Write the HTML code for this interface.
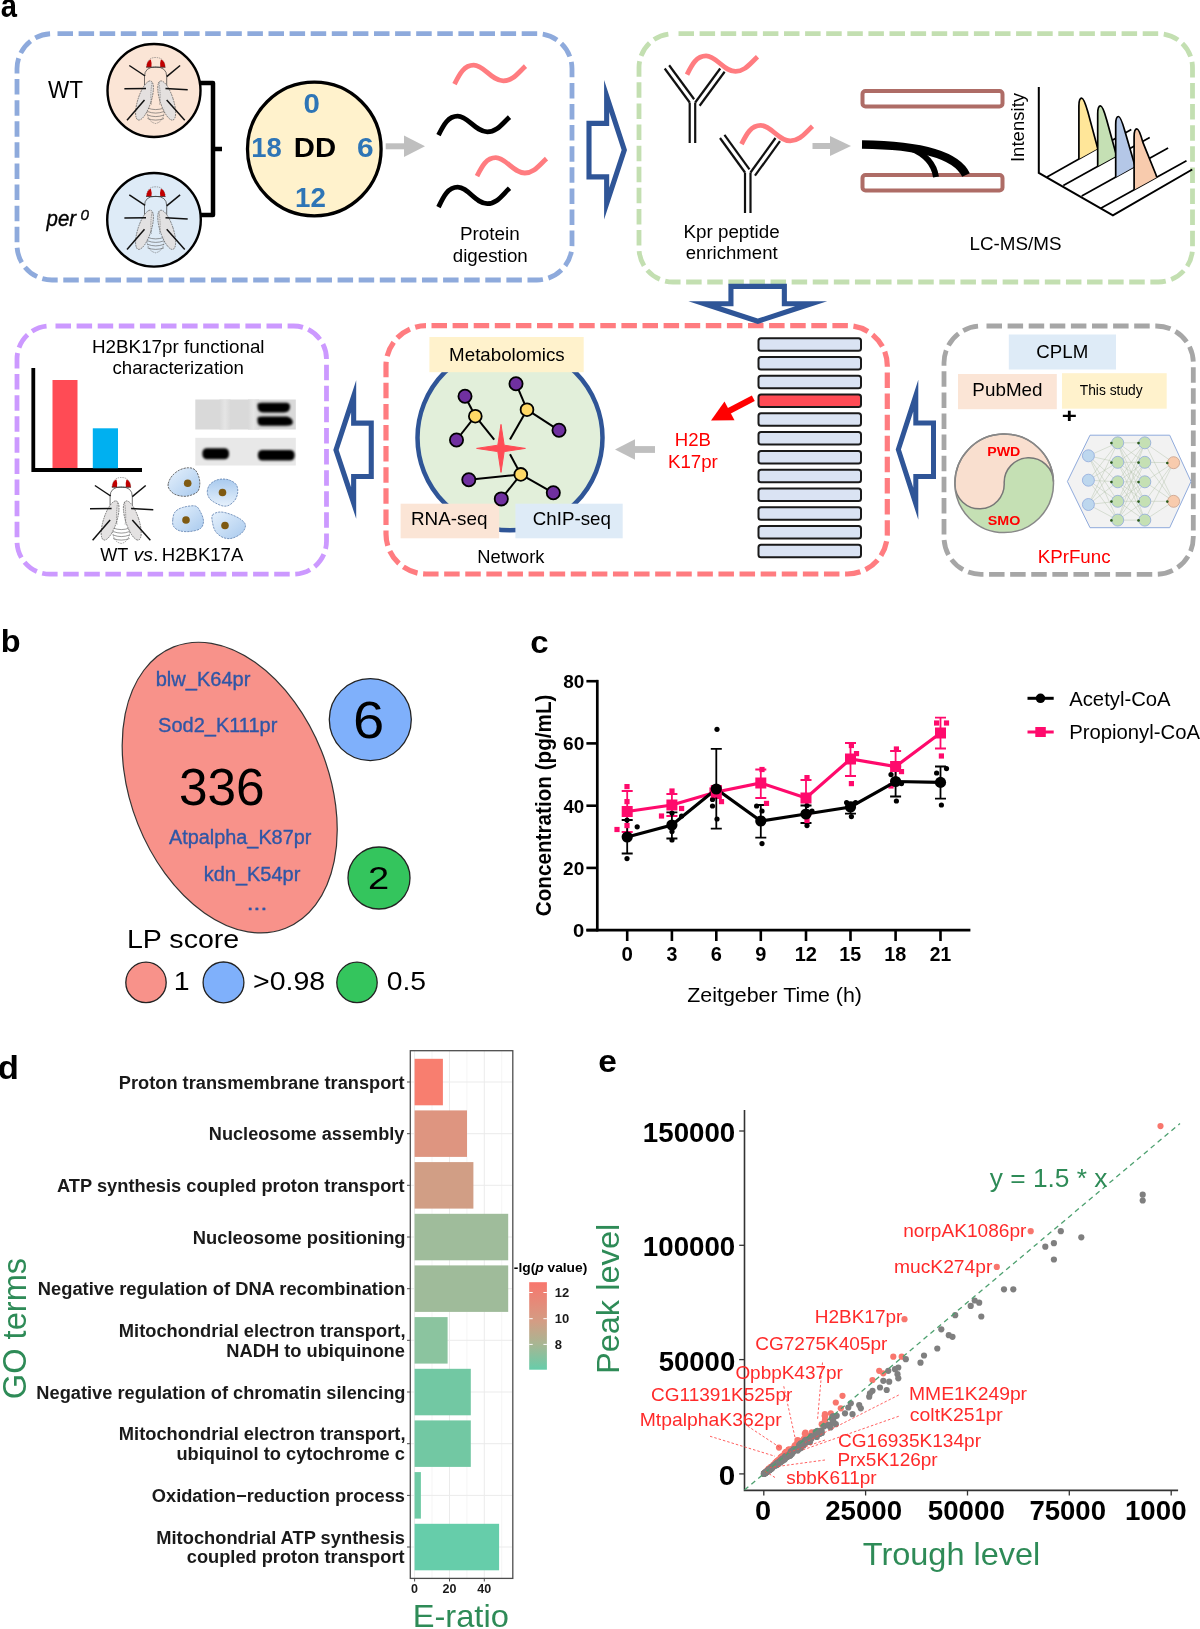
<!DOCTYPE html>
<html><head><meta charset="utf-8"><style>
html,body{margin:0;padding:0;background:#fff;}
svg{display:block;font-family:"Liberation Sans", sans-serif;will-change:transform;}
</style></head><body>
<svg width="1200" height="1629" viewBox="0 0 1200 1629" font-family='"Liberation Sans", sans-serif'>
<rect width="1200" height="1629" fill="#fff"/>
<text x="0.83" y="17.3" font-size="32.5" fill="#000" font-weight="bold" textLength="16.22" lengthAdjust="spacingAndGlyphs">a</text>
<rect x="17" y="33.7" width="555" height="246.3" rx="35" ry="35" fill="none" stroke="#8eaadc" stroke-width="4.8" stroke-dasharray="15.5 5.6" stroke-dashoffset="15.6"/>
<rect x="639" y="33.7" width="553.5" height="248.3" rx="34" ry="34" fill="none" stroke="#c3dfb1" stroke-width="4.8" stroke-dasharray="15.5 5.6" stroke-dashoffset="15.6"/>
<rect x="17" y="326" width="309.5" height="248.20000000000005" rx="33" ry="33" fill="none" stroke="#cc99ff" stroke-width="4.8" stroke-dasharray="15.5 5.6" stroke-dashoffset="15.6"/>
<rect x="386" y="325.7" width="501.29999999999995" height="248.3" rx="40" ry="40" fill="none" stroke="#ff7c80" stroke-width="5.2" stroke-dasharray="15.5 5.6" stroke-dashoffset="15.6"/>
<rect x="944" y="326" width="249.29999999999995" height="248.29999999999995" rx="37" ry="37" fill="none" stroke="#a6a6a6" stroke-width="4.8" stroke-dasharray="15.5 5.6" stroke-dashoffset="15.6"/>
<circle cx="154" cy="90.5" r="46.5" fill="#fbe5d6" stroke="#000" stroke-width="2.4"/>
<g transform="translate(154,90.5)"><path d="M-7 16 Q-8 31 1.6 33 Q11 31 10.5 16" fill="none" stroke="#666" stroke-width="0.6" stroke-dasharray="1.6 0.9"/><path d="M-6.5 17.5 Q1.6 20.7 10 17.5" fill="none" stroke="#555" stroke-width="0.6"/><path d="M-6.5 21 Q1.6 24.2 10 21" fill="none" stroke="#555" stroke-width="0.6"/><path d="M-6.5 24.5 Q1.6 27.7 10 24.5" fill="none" stroke="#555" stroke-width="0.6"/><path d="M-6.5 28 Q1.6 31.2 10 28" fill="none" stroke="#555" stroke-width="0.6"/><path d="M-9.5 -5 L-9.5 -14 Q-9.5 -23.5 1.6 -23.5 Q12.7 -23.5 12.7 -14 L12.7 -5" fill="none" stroke="#333" stroke-width="0.7"/><ellipse cx="-9.5" cy="10" rx="6.6" ry="20.5" transform="rotate(18 -9.5 10)" fill="#e2dfdf" fill-opacity="0.92" stroke="#444" stroke-width="0.6" stroke-dasharray="1.8 0.8"/><ellipse cx="12.7" cy="10" rx="6.6" ry="20.5" transform="rotate(-18 12.7 10)" fill="#e2dfdf" fill-opacity="0.92" stroke="#444" stroke-width="0.6" stroke-dasharray="1.8 0.8"/><path d="M-2 -8 Q-4 5 -2.5 14 M5 -8 Q7 5 5.5 14" fill="none" stroke="#555" stroke-width="0.5" stroke-dasharray="1.5 0.8"/><path d="M-7.5 -23.3 Q-7 -33 1.6 -33 Q10.5 -33 11.2 -23.3 Z" fill="none" stroke="#666" stroke-width="0.6" stroke-dasharray="1.4 0.9"/><path d="M-7.6 -23.3 Q-7.3 -29.5 -3.2 -31 Q-1.8 -27 -2.6 -23.3 Z" fill="#c00000"/><path d="M11.3 -23.3 Q11 -29.5 6.9 -31 Q5.5 -27 6.3 -23.3 Z" fill="#c00000"/><line x1="-7.8" y1="-23.3" x2="11.4" y2="-23.3" stroke="#333" stroke-width="0.7"/><line x1="-24.7" y1="-25" x2="-8.9" y2="-14.5" stroke="#111" stroke-width="1.5"/><line x1="26.1" y1="-25" x2="12.7" y2="-13.9" stroke="#111" stroke-width="1.5"/><line x1="-29.6" y1="-1.7" x2="-8" y2="-2" stroke="#111" stroke-width="1.5"/><line x1="33.7" y1="-0.8" x2="11.5" y2="-2" stroke="#111" stroke-width="1.5"/><line x1="-27" y1="29.8" x2="-9.5" y2="9.5" stroke="#111" stroke-width="1.5"/><line x1="30.75" y1="29.8" x2="12.7" y2="9.5" stroke="#111" stroke-width="1.5"/></g>
<circle cx="154" cy="219.8" r="46.8" fill="#deebf7" stroke="#000" stroke-width="2.4"/>
<g transform="translate(154,219.8)"><path d="M-7 16 Q-8 31 1.6 33 Q11 31 10.5 16" fill="none" stroke="#666" stroke-width="0.6" stroke-dasharray="1.6 0.9"/><path d="M-6.5 17.5 Q1.6 20.7 10 17.5" fill="none" stroke="#555" stroke-width="0.6"/><path d="M-6.5 21 Q1.6 24.2 10 21" fill="none" stroke="#555" stroke-width="0.6"/><path d="M-6.5 24.5 Q1.6 27.7 10 24.5" fill="none" stroke="#555" stroke-width="0.6"/><path d="M-6.5 28 Q1.6 31.2 10 28" fill="none" stroke="#555" stroke-width="0.6"/><path d="M-9.5 -5 L-9.5 -14 Q-9.5 -23.5 1.6 -23.5 Q12.7 -23.5 12.7 -14 L12.7 -5" fill="none" stroke="#333" stroke-width="0.7"/><ellipse cx="-9.5" cy="10" rx="6.6" ry="20.5" transform="rotate(18 -9.5 10)" fill="#e2dfdf" fill-opacity="0.92" stroke="#444" stroke-width="0.6" stroke-dasharray="1.8 0.8"/><ellipse cx="12.7" cy="10" rx="6.6" ry="20.5" transform="rotate(-18 12.7 10)" fill="#e2dfdf" fill-opacity="0.92" stroke="#444" stroke-width="0.6" stroke-dasharray="1.8 0.8"/><path d="M-2 -8 Q-4 5 -2.5 14 M5 -8 Q7 5 5.5 14" fill="none" stroke="#555" stroke-width="0.5" stroke-dasharray="1.5 0.8"/><path d="M-7.5 -23.3 Q-7 -33 1.6 -33 Q10.5 -33 11.2 -23.3 Z" fill="none" stroke="#666" stroke-width="0.6" stroke-dasharray="1.4 0.9"/><path d="M-7.6 -23.3 Q-7.3 -29.5 -3.2 -31 Q-1.8 -27 -2.6 -23.3 Z" fill="#c00000"/><path d="M11.3 -23.3 Q11 -29.5 6.9 -31 Q5.5 -27 6.3 -23.3 Z" fill="#c00000"/><line x1="-7.8" y1="-23.3" x2="11.4" y2="-23.3" stroke="#333" stroke-width="0.7"/><line x1="-24.7" y1="-25" x2="-8.9" y2="-14.5" stroke="#111" stroke-width="1.5"/><line x1="26.1" y1="-25" x2="12.7" y2="-13.9" stroke="#111" stroke-width="1.5"/><line x1="-29.6" y1="-1.7" x2="-8" y2="-2" stroke="#111" stroke-width="1.5"/><line x1="33.7" y1="-0.8" x2="11.5" y2="-2" stroke="#111" stroke-width="1.5"/><line x1="-27" y1="29.8" x2="-9.5" y2="9.5" stroke="#111" stroke-width="1.5"/><line x1="30.75" y1="29.8" x2="12.7" y2="9.5" stroke="#111" stroke-width="1.5"/></g>
<text x="47.89" y="97.7" font-size="23.4" fill="#000" textLength="35.06" lengthAdjust="spacingAndGlyphs">WT</text>
<text x="46.51" y="226.3" font-size="21.5" fill="#000" font-style="italic" textLength="29.58" lengthAdjust="spacingAndGlyphs" stroke="#000" stroke-width="0.35">per</text>
<text x="80.61" y="220" font-size="15.5" fill="#000" font-style="italic" textLength="8.48" lengthAdjust="spacingAndGlyphs" stroke="#000" stroke-width="0.3">0</text>
<path d="M200 83 H213 V215 H200" fill="none" stroke="#000" stroke-width="4.5" stroke-linejoin="round"/>
<line x1="213" y1="149" x2="222" y2="149" stroke="#000" stroke-width="4.5"/>
<circle cx="314.3" cy="149" r="66.8" fill="#fff2cc" stroke="#000" stroke-width="3.3"/>
<text x="303.62" y="112.5" font-size="27" fill="#2e75b6" font-weight="bold" textLength="16.39" lengthAdjust="spacingAndGlyphs">0</text>
<text x="295.14" y="206.5" font-size="27" fill="#2e75b6" font-weight="bold" textLength="30.84" lengthAdjust="spacingAndGlyphs">12</text>
<text x="251.35" y="157.2" font-size="27" fill="#2e75b6" font-weight="bold" textLength="30.53" lengthAdjust="spacingAndGlyphs">18</text>
<text x="356.95" y="157.2" font-size="27" fill="#2e75b6" font-weight="bold" textLength="16.63" lengthAdjust="spacingAndGlyphs">6</text>
<text x="293.80" y="157.2" font-size="27" fill="#000" font-weight="bold" textLength="42.30" lengthAdjust="spacingAndGlyphs">DD</text>
<line x1="385.7" y1="146.3" x2="404" y2="146.3" stroke="#bfbfbf" stroke-width="6"/>
<polygon points="404,135.5 425,146.3 404,157.10000000000002" fill="#bfbfbf"/>
<path d="M454.5 84.1 C459.7 73.7 464.1 65.2 473.7 65.2 C484.1 65.2 491.5 80.9 503.3 80.9 C512.9 80.9 518.1 72.8 525.5 66.1" fill="none" stroke="#ff7c80" stroke-width="4.8"/>
<path d="M438.5 135.1 C443.7 124.7 448.1 116.2 457.7 116.2 C468.1 116.2 475.5 131.9 487.3 131.9 C496.9 131.9 502.1 123.8 509.5 117.1" fill="none" stroke="#000" stroke-width="4.8"/>
<path d="M477.0 176.1 C482.1 166.0 486.4 157.7 495.8 157.7 C505.9 157.7 513.2 173.0 524.8 173.0 C534.2 173.0 539.2 165.1 546.5 158.6" fill="none" stroke="#ff7c80" stroke-width="4.8"/>
<path d="M438.5 207.1 C443.7 196.2 448.1 187.2 457.7 187.2 C468.1 187.2 475.5 203.7 487.3 203.7 C496.9 203.7 502.1 195.2 509.5 188.2" fill="none" stroke="#000" stroke-width="4.8"/>
<text x="459.99" y="240.4" font-size="18" fill="#000" textLength="59.80" lengthAdjust="spacingAndGlyphs">Protein</text>
<text x="452.75" y="262" font-size="18" fill="#000" textLength="75.03" lengthAdjust="spacingAndGlyphs">digestion</text>
<polygon points="586.45,120.80 604.10,120.80 604.10,80.10 627.00,150.10 604.10,219.60 604.10,179.40 586.45,179.40" fill="#2f5597"/><polygon points="591.55,125.90 609.20,125.90 609.20,112.09 621.63,150.09 609.20,187.83 609.20,174.30 591.55,174.30" fill="#fff"/>
<line x1="689.7" y1="102.5" x2="689.7" y2="143" stroke="#111" stroke-width="2.2"/><line x1="695.2" y1="102.5" x2="695.2" y2="143" stroke="#111" stroke-width="2.2"/><line x1="689.7" y1="102.5" x2="664.7" y2="68.5" stroke="#111" stroke-width="2.2"/><line x1="694.1310805695718" y1="99.24185252237365" x2="669.1310805695718" y2="65.24185252237365" stroke="#111" stroke-width="2.2"/><line x1="695.2" y1="102.5" x2="720.2" y2="68.5" stroke="#111" stroke-width="2.2"/><line x1="699.6310805695718" y1="105.75814747762635" x2="724.6310805695718" y2="71.75814747762635" stroke="#111" stroke-width="2.2"/>
<line x1="745" y1="172.5" x2="745" y2="213" stroke="#111" stroke-width="2.2"/><line x1="750.5" y1="172.5" x2="750.5" y2="213" stroke="#111" stroke-width="2.2"/><line x1="745.0" y1="172.5" x2="720.0" y2="138.0" stroke="#111" stroke-width="2.2"/><line x1="749.4536241352746" y1="169.27273613385898" x2="724.4536241352746" y2="134.77273613385898" stroke="#111" stroke-width="2.2"/><line x1="750.5" y1="172.5" x2="775.5" y2="138.0" stroke="#111" stroke-width="2.2"/><line x1="754.9536241352746" y1="175.72726386614102" x2="779.9536241352746" y2="141.22726386614102" stroke="#111" stroke-width="2.2"/>
<path d="M687.0 74.6 C692.1 64.3 696.5 55.9 706.1 55.9 C716.4 55.9 723.7 71.4 735.5 71.4 C745.0 71.4 750.1 63.4 757.5 56.8" fill="none" stroke="#ff7c80" stroke-width="4.8"/>
<path d="M741.5 144.1 C746.7 133.8 751.1 125.4 760.7 125.4 C771.1 125.4 778.5 140.9 790.3 140.9 C799.9 140.9 805.1 132.9 812.5 126.3" fill="none" stroke="#ff7c80" stroke-width="4.8"/>
<line x1="812.5" y1="146" x2="830" y2="146" stroke="#bfbfbf" stroke-width="6"/>
<polygon points="830,136 851,146 830,156" fill="#bfbfbf"/>
<text x="683.50" y="237.5" font-size="18" fill="#000" textLength="96.10" lengthAdjust="spacingAndGlyphs">Kpr peptide</text>
<text x="685.76" y="258.75" font-size="18" fill="#000" textLength="91.87" lengthAdjust="spacingAndGlyphs">enrichment</text>
<rect x="862.5" y="91" width="140" height="15.5" rx="3" fill="#fff" stroke="#ae6c66" stroke-width="4"/>
<rect x="862.5" y="175" width="140" height="15.5" rx="3" fill="#fff" stroke="#ae6c66" stroke-width="4"/>
<path d="M862 144.5 C910 145 955 152 966 175" fill="none" stroke="#000" stroke-width="8.5"/>
<path d="M910 148 C925 154 934 163 936 177" fill="none" stroke="#000" stroke-width="6"/>
<text transform="translate(1023.8,160.4) rotate(-90)" x="-1.67" y="0" font-size="18" fill="#000" textLength="69.16" lengthAdjust="spacingAndGlyphs">Intensity</text>
<line x1="1047" y1="177" x2="1131.3" y2="129.6" stroke="#000" stroke-width="1.7"/><line x1="1063.3" y1="185.5" x2="1149.7" y2="137.4" stroke="#000" stroke-width="1.7"/><line x1="1081.7" y1="196.1" x2="1168.1" y2="148" stroke="#000" stroke-width="1.7"/><line x1="1100.8" y1="208.2" x2="1186.5" y2="160.7" stroke="#000" stroke-width="1.7"/><path d="M1078.9 159.1 L1078.9 106.1 C1078.9 99.1 1080.4 98.1 1081.7 98.1 C1083.9 98.1 1085.9 105.1 1087.9 112.1 L1096.9 145.4 L1097.9 148.4 Z" fill="#ffe699" stroke="none"/><path d="M1078.9 159.1 L1078.9 106.1 C1078.9 99.1 1080.4 98.1 1081.7 98.1 C1083.9 98.1 1085.9 105.1 1087.9 112.1 L1096.9 145.4 L1097.9 148.4" fill="none" stroke="#000" stroke-width="1.7" stroke-linejoin="round"/><path d="M1097.7 166.3 L1097.7 113.9 C1097.7 106.9 1099.2 105.9 1100.5 105.9 C1102.7 105.9 1104.7 112.9 1106.7 119.9 L1115.7 152.8 L1116.7 155.8 Z" fill="#c5e0b4" stroke="none"/><path d="M1097.7 166.3 L1097.7 113.9 C1097.7 106.9 1099.2 105.9 1100.5 105.9 C1102.7 105.9 1104.7 112.9 1106.7 119.9 L1115.7 152.8 L1116.7 155.8" fill="none" stroke="#000" stroke-width="1.7" stroke-linejoin="round"/><path d="M1115.7 177.2 L1115.7 124.5 C1115.7 117.5 1117.2 116.5 1118.5 116.5 C1120.7 116.5 1122.7 123.5 1124.7 130.5 L1134.2 163.3 L1135.2 166.3 Z" fill="#b4c7e7" stroke="none"/><path d="M1115.7 177.2 L1115.7 124.5 C1115.7 117.5 1117.2 116.5 1118.5 116.5 C1120.7 116.5 1122.7 123.5 1124.7 130.5 L1134.2 163.3 L1135.2 166.3" fill="none" stroke="#000" stroke-width="1.7" stroke-linejoin="round"/><path d="M1134.1 189.7 L1134.1 136.9 C1134.1 129.9 1135.6 128.9 1136.9 128.9 C1139.1 128.9 1141.1 135.9 1143.1 142.9 L1155.8 174.2 L1156.8 177.2 Z" fill="#f8cbad" stroke="none"/><path d="M1134.1 189.7 L1134.1 136.9 C1134.1 129.9 1135.6 128.9 1136.9 128.9 C1139.1 128.9 1141.1 135.9 1143.1 142.9 L1155.8 174.2 L1156.8 177.2" fill="none" stroke="#000" stroke-width="1.7" stroke-linejoin="round"/><polyline points="1038.8,87 1038.8,172.8 1112.9,215.3 1192.2,169.5" fill="none" stroke="#000" stroke-width="2"/>
<text x="969.50" y="250.3" font-size="18" fill="#000" textLength="91.93" lengthAdjust="spacingAndGlyphs">LC-MS/MS</text>
<polygon points="728.40,283.80 786.90,283.80 786.90,301.25 827.20,301.25 757.80,323.90 688.40,301.25 728.40,301.25" fill="#2f5597"/><polygon points="733.50,288.90 781.80,288.90 781.80,306.35 795.14,306.35 757.80,318.54 720.46,306.35 733.50,306.35" fill="#fff"/>
<text x="91.99" y="352.5" font-size="18.5" fill="#000" textLength="172.58" lengthAdjust="spacingAndGlyphs">H2BK17pr functional</text>
<text x="112.56" y="374" font-size="18.5" fill="#000" textLength="131.34" lengthAdjust="spacingAndGlyphs">characterization</text>
<polyline points="33.3,368 33.3,470 142,470" fill="none" stroke="#000" stroke-width="3.8"/>
<rect x="52.5" y="380" width="25" height="88" fill="#ff4b55"/>
<rect x="92.8" y="428.3" width="25.2" height="40" fill="#00b0f0"/>
<defs><filter id="blur1" x="-20%" y="-50%" width="140%" height="200%"><feGaussianBlur stdDeviation="1.1"/></filter><filter id="blur2" x="-20%" y="-50%" width="140%" height="200%"><feGaussianBlur stdDeviation="0.9"/></filter></defs>
<rect x="195.3" y="399.5" width="100.5" height="30" fill="#d9d9d9"/>
<rect x="195.3" y="437.8" width="100.5" height="27.7" fill="#e8e8e8"/>
<defs><linearGradient id="lane" x1="0" y1="0" x2="1" y2="0"><stop offset="0" stop-color="#d9d9d9"/><stop offset="0.5" stop-color="#e5e5e5"/><stop offset="1" stop-color="#d9d9d9"/></linearGradient></defs>
<rect x="219.5" y="399.5" width="11" height="30" fill="url(#lane)"/><rect x="248" y="399.5" width="11" height="30" fill="url(#lane)"/>
<g filter="url(#blur2)"><path d="M257.5 404.5 Q257.5 402.8 262 402.8 L286 402.8 Q290 402.8 290 406.5 Q290 412.4 284 412.4 L263 412.4 Q257.5 412.4 257.5 406 Z" fill="#050505"/><path d="M257.5 418.5 Q257.5 416.6 262 416.6 L287 416.6 Q292.8 418 292.8 422.5 Q292.8 425.7 286 425.7 L262 425.7 Q257.5 425.7 257.5 421 Z" fill="#050505"/><rect x="202.4" y="448.2" width="26.6" height="11" rx="4.5" fill="#050505"/><rect x="257.9" y="450" width="36.7" height="10.6" rx="4.5" fill="#050505"/></g>
<defs><linearGradient id="cellg" x1="0" y1="0" x2="1" y2="1"><stop offset="0" stop-color="#e6f1fc"/><stop offset="1" stop-color="#a9caee"/></linearGradient><linearGradient id="cellg2" x1="0" y1="0" x2="0" y2="1"><stop offset="0" stop-color="#a9caee"/><stop offset="1" stop-color="#e6f1fc"/></linearGradient></defs>
<path d="M168.25 483.50 C168.75 481.38 170.12 478.25 172.00 476.00 C173.88 473.75 176.75 471.38 179.50 470.00 C182.25 468.62 185.88 467.75 188.50 467.75 C191.12 467.75 193.50 468.38 195.25 470.00 C197.00 471.62 198.25 475.00 199.00 477.50 C199.75 480.00 200.00 482.62 199.75 485.00 C199.50 487.38 199.12 490.00 197.50 491.75 C195.88 493.50 192.50 494.75 190.00 495.50 C187.50 496.25 185.12 496.50 182.50 496.25 C179.88 496.00 176.50 495.25 174.25 494.00 C172.00 492.75 170.00 490.50 169.00 488.75 C168.00 487.00 167.75 485.62 168.25 483.50 Z" fill="url(#cellg)" stroke="#4a4a4a" stroke-width="0.8" stroke-dasharray="2.2 1"/>
<circle cx="187.7" cy="483.2" r="3.8" fill="#7f5a12"/>
<path d="M207.25 491.75 C207.25 489.50 208.12 486.88 209.50 485.00 C210.88 483.12 213.25 481.50 215.50 480.50 C217.75 479.50 220.50 479.00 223.00 479.00 C225.50 479.00 228.25 479.50 230.50 480.50 C232.75 481.50 235.30 483.00 236.50 485.00 C237.70 487.00 237.95 490.00 237.70 492.50 C237.45 495.00 236.45 497.88 235.00 500.00 C233.55 502.12 231.00 504.25 229.00 505.25 C227.00 506.25 225.25 506.38 223.00 506.00 C220.75 505.62 217.75 504.25 215.50 503.00 C213.25 501.75 210.88 500.38 209.50 498.50 C208.12 496.62 207.25 494.00 207.25 491.75 Z" fill="url(#cellg2)" stroke="#5d7fae" stroke-width="0.8" stroke-dasharray="2.2 1"/>
<circle cx="222.5" cy="492.5" r="3.8" fill="#7f5a12"/>
<path d="M172.75 519.50 C173.00 517.12 173.38 514.00 175.00 512.00 C176.62 510.00 179.12 508.50 182.50 507.50 C185.88 506.50 192.25 505.25 195.25 506.00 C198.25 506.75 199.12 509.50 200.50 512.00 C201.88 514.50 203.50 518.25 203.50 521.00 C203.50 523.75 202.75 526.75 200.50 528.50 C198.25 530.25 193.50 531.12 190.00 531.50 C186.50 531.88 182.25 531.62 179.50 530.75 C176.75 529.88 174.62 528.12 173.50 526.25 C172.38 524.38 172.50 521.88 172.75 519.50 Z" fill="url(#cellg)" stroke="#5d7fae" stroke-width="0.8" stroke-dasharray="2.2 1"/>
<circle cx="186" cy="520" r="3.8" fill="#7f5a12"/>
<path d="M212.50 515.00 C213.75 513.25 217.00 512.12 220.00 512.00 C223.00 511.88 227.00 513.00 230.50 514.25 C234.00 515.50 238.50 517.62 241.00 519.50 C243.50 521.38 245.38 523.25 245.50 525.50 C245.62 527.75 244.00 530.88 241.75 533.00 C239.50 535.12 235.12 537.50 232.00 538.25 C228.88 539.00 225.75 538.62 223.00 537.50 C220.25 536.38 217.25 534.00 215.50 531.50 C213.75 529.00 213.00 525.25 212.50 522.50 C212.00 519.75 211.25 516.75 212.50 515.00 Z" fill="url(#cellg)" stroke="#5d7fae" stroke-width="0.8" stroke-dasharray="2.2 1"/>
<circle cx="225" cy="525.5" r="3.8" fill="#7f5a12"/>
<g transform="translate(119.6,510.5)"><path d="M-7 16 Q-8 31 1.6 33 Q11 31 10.5 16" fill="none" stroke="#666" stroke-width="0.6" stroke-dasharray="1.6 0.9"/><path d="M-6.5 17.5 Q1.6 20.7 10 17.5" fill="none" stroke="#555" stroke-width="0.6"/><path d="M-6.5 21 Q1.6 24.2 10 21" fill="none" stroke="#555" stroke-width="0.6"/><path d="M-6.5 24.5 Q1.6 27.7 10 24.5" fill="none" stroke="#555" stroke-width="0.6"/><path d="M-6.5 28 Q1.6 31.2 10 28" fill="none" stroke="#555" stroke-width="0.6"/><path d="M-9.5 -5 L-9.5 -14 Q-9.5 -23.5 1.6 -23.5 Q12.7 -23.5 12.7 -14 L12.7 -5" fill="none" stroke="#333" stroke-width="0.7"/><ellipse cx="-9.5" cy="10" rx="6.6" ry="20.5" transform="rotate(18 -9.5 10)" fill="#e2dfdf" fill-opacity="0.92" stroke="#444" stroke-width="0.6" stroke-dasharray="1.8 0.8"/><ellipse cx="12.7" cy="10" rx="6.6" ry="20.5" transform="rotate(-18 12.7 10)" fill="#e2dfdf" fill-opacity="0.92" stroke="#444" stroke-width="0.6" stroke-dasharray="1.8 0.8"/><path d="M-2 -8 Q-4 5 -2.5 14 M5 -8 Q7 5 5.5 14" fill="none" stroke="#555" stroke-width="0.5" stroke-dasharray="1.5 0.8"/><path d="M-7.5 -23.3 Q-7 -33 1.6 -33 Q10.5 -33 11.2 -23.3 Z" fill="none" stroke="#666" stroke-width="0.6" stroke-dasharray="1.4 0.9"/><path d="M-7.6 -23.3 Q-7.3 -29.5 -3.2 -31 Q-1.8 -27 -2.6 -23.3 Z" fill="#c00000"/><path d="M11.3 -23.3 Q11 -29.5 6.9 -31 Q5.5 -27 6.3 -23.3 Z" fill="#c00000"/><line x1="-7.8" y1="-23.3" x2="11.4" y2="-23.3" stroke="#333" stroke-width="0.7"/><line x1="-24.7" y1="-25" x2="-8.9" y2="-14.5" stroke="#111" stroke-width="1.5"/><line x1="26.1" y1="-25" x2="12.7" y2="-13.9" stroke="#111" stroke-width="1.5"/><line x1="-29.6" y1="-1.7" x2="-8" y2="-2" stroke="#111" stroke-width="1.5"/><line x1="33.7" y1="-0.8" x2="11.5" y2="-2" stroke="#111" stroke-width="1.5"/><line x1="-27" y1="29.8" x2="-9.5" y2="9.5" stroke="#111" stroke-width="1.5"/><line x1="30.75" y1="29.8" x2="12.7" y2="9.5" stroke="#111" stroke-width="1.5"/></g>
<text x="100.31" y="560.9" font-size="18.3" fill="#000" textLength="28.05" lengthAdjust="spacingAndGlyphs">WT</text>
<text x="133.63" y="560.9" font-size="18.3" fill="#000" font-style="italic" textLength="19.46" lengthAdjust="spacingAndGlyphs">vs</text>
<text x="153.3" y="560.9" font-size="18.3" fill="#000" text-anchor="start">.</text>
<text x="161.82" y="560.9" font-size="18.3" fill="#000" textLength="81.52" lengthAdjust="spacingAndGlyphs">H2BK17A</text>
<polygon points="373.80,420.60 356.20,420.60 356.20,380.30 333.30,450.10 356.20,518.80 356.20,479.00 373.80,479.00" fill="#2f5597"/><polygon points="368.70,425.70 351.10,425.70 351.10,412.21 338.67,450.09 351.10,487.37 351.10,473.90 368.70,473.90" fill="#fff"/>
<circle cx="510" cy="437.8" r="92.5" fill="#e2efda" stroke="#2f5597" stroke-width="4.5"/>
<rect x="429.4" y="337" width="154.3" height="35.2" fill="#fff2cc"/>
<text x="449.10" y="360.9" font-size="18.5" fill="#000" textLength="115.64" lengthAdjust="spacingAndGlyphs">Metabolomics</text>
<rect x="400.6" y="503.7" width="98.6" height="34.6" fill="#fbe5d6"/>
<rect x="515.4" y="503.7" width="107.3" height="34.6" fill="#deebf7"/>
<text x="410.99" y="525.3" font-size="18.5" fill="#000" textLength="76.47" lengthAdjust="spacingAndGlyphs">RNA-seq</text>
<text x="532.86" y="525.3" font-size="18.5" fill="#000" textLength="78.02" lengthAdjust="spacingAndGlyphs">ChIP-seq</text>
<text x="477.33" y="563.3" font-size="18.5" fill="#000" textLength="67.22" lengthAdjust="spacingAndGlyphs">Network</text>
<line x1="465" y1="396.2" x2="475.3" y2="416.2" stroke="#000" stroke-width="2"/><line x1="475.3" y1="416.2" x2="456.5" y2="440" stroke="#000" stroke-width="2"/><line x1="475.3" y1="416.2" x2="494.2" y2="439.6" stroke="#000" stroke-width="2"/><line x1="516" y1="383.7" x2="527" y2="409.7" stroke="#000" stroke-width="2"/><line x1="527" y1="409.7" x2="559" y2="430.3" stroke="#000" stroke-width="2"/><line x1="527" y1="409.7" x2="510" y2="439.6" stroke="#000" stroke-width="2"/><line x1="510" y1="454.3" x2="520.8" y2="474.4" stroke="#000" stroke-width="2"/><line x1="520.8" y1="474.4" x2="468.8" y2="479.8" stroke="#000" stroke-width="2"/><line x1="520.8" y1="474.4" x2="501.3" y2="498.9" stroke="#000" stroke-width="2"/><line x1="520.8" y1="474.4" x2="553.3" y2="492.8" stroke="#000" stroke-width="2"/>
<path d="M501 424.4 L504.2 445.2 L525.4 448.4 L504.2 451.59999999999997 L501 472.4 L497.8 451.59999999999997 L476.6 448.4 L497.8 445.2 Z" fill="#ff4b55" stroke="#ff4b55" stroke-width="1" stroke-linejoin="round"/>
<circle cx="465" cy="396.2" r="6.6" fill="#7030a0" stroke="#000" stroke-width="1.8"/>
<circle cx="456.5" cy="440" r="6.6" fill="#7030a0" stroke="#000" stroke-width="1.8"/>
<circle cx="516" cy="383.7" r="6.6" fill="#7030a0" stroke="#000" stroke-width="1.8"/>
<circle cx="559" cy="430.3" r="6.6" fill="#7030a0" stroke="#000" stroke-width="1.8"/>
<circle cx="468.8" cy="479.8" r="6.6" fill="#7030a0" stroke="#000" stroke-width="1.8"/>
<circle cx="501.3" cy="498.9" r="6.6" fill="#7030a0" stroke="#000" stroke-width="1.8"/>
<circle cx="553.3" cy="492.8" r="6.6" fill="#7030a0" stroke="#000" stroke-width="1.8"/>
<circle cx="475.3" cy="416.2" r="6.4" fill="#ffd966" stroke="#000" stroke-width="1.8"/>
<circle cx="527" cy="409.7" r="6.4" fill="#ffd966" stroke="#000" stroke-width="1.8"/>
<circle cx="520.8" cy="474.4" r="6.4" fill="#ffd966" stroke="#000" stroke-width="1.8"/>
<line x1="655" y1="449.5" x2="635" y2="449.5" stroke="#bfbfbf" stroke-width="6.8"/>
<polygon points="635,439.2 615,449.5 635,459.8" fill="#bfbfbf"/>
<text x="674.76" y="446.25" font-size="18.5" fill="#ff0000" textLength="36.17" lengthAdjust="spacingAndGlyphs">H2B</text>
<text x="668.01" y="467.5" font-size="18.5" fill="#ff0000" textLength="49.84" lengthAdjust="spacingAndGlyphs">K17pr</text>
<line x1="753.3" y1="398.3" x2="727" y2="412" stroke="#ff0000" stroke-width="6.3"/>
<polygon points="711,420.6 724.5,401.5 734.5,420.3" fill="#ff0000"/>
<rect x="758.5" y="338.2" width="102.5" height="12.5" rx="2.5" fill="#dae3f3" stroke="#1a1a1a" stroke-width="2"/>
<rect x="758.5" y="356.98" width="102.5" height="12.5" rx="2.5" fill="#dae3f3" stroke="#1a1a1a" stroke-width="2"/>
<rect x="758.5" y="375.76" width="102.5" height="12.5" rx="2.5" fill="#dae3f3" stroke="#1a1a1a" stroke-width="2"/>
<rect x="758.5" y="394.53999999999996" width="102.5" height="12.5" rx="2.5" fill="#ff4b55" stroke="#1a1a1a" stroke-width="2"/>
<rect x="758.5" y="413.32" width="102.5" height="12.5" rx="2.5" fill="#dae3f3" stroke="#1a1a1a" stroke-width="2"/>
<rect x="758.5" y="432.1" width="102.5" height="12.5" rx="2.5" fill="#dae3f3" stroke="#1a1a1a" stroke-width="2"/>
<rect x="758.5" y="450.88" width="102.5" height="12.5" rx="2.5" fill="#dae3f3" stroke="#1a1a1a" stroke-width="2"/>
<rect x="758.5" y="469.65999999999997" width="102.5" height="12.5" rx="2.5" fill="#dae3f3" stroke="#1a1a1a" stroke-width="2"/>
<rect x="758.5" y="488.44" width="102.5" height="12.5" rx="2.5" fill="#dae3f3" stroke="#1a1a1a" stroke-width="2"/>
<rect x="758.5" y="507.22" width="102.5" height="12.5" rx="2.5" fill="#dae3f3" stroke="#1a1a1a" stroke-width="2"/>
<rect x="758.5" y="526.0" width="102.5" height="12.5" rx="2.5" fill="#dae3f3" stroke="#1a1a1a" stroke-width="2"/>
<rect x="758.5" y="544.78" width="102.5" height="12.5" rx="2.5" fill="#dae3f3" stroke="#1a1a1a" stroke-width="2"/>
<rect x="1008.8" y="334.5" width="107.2" height="35" fill="#deebf7"/>
<text x="1036.37" y="358" font-size="18.5" fill="#000" textLength="51.89" lengthAdjust="spacingAndGlyphs">CPLM</text>
<rect x="958" y="374" width="98.8" height="35.2" fill="#fbe5d6"/>
<text x="972.39" y="395.9" font-size="18.5" fill="#000" textLength="70.13" lengthAdjust="spacingAndGlyphs">PubMed</text>
<rect x="1062" y="373.2" width="104.7" height="35.5" fill="#fff2cc"/>
<text x="1079.72" y="394.8" font-size="14" fill="#000" textLength="63.01" lengthAdjust="spacingAndGlyphs">This study</text>
<text x="1061.66" y="422.5" font-size="20" fill="#000" font-weight="bold" textLength="15.15" lengthAdjust="spacingAndGlyphs">+</text>
<circle cx="1004.2" cy="483.3" r="49.3" fill="#c5e0b4"/>
<path d="M954.93 485.02 A49.3 49.3 0 0 1 1053.47 481.58 A24.65 24.65 0 0 0 1004.2 483.3 A24.65 24.65 0 0 1 954.93 485.02 Z" fill="#f9dfcf" stroke="#777" stroke-width="1.5"/>
<circle cx="1004.2" cy="483.3" r="49.3" fill="none" stroke="#888" stroke-width="1.5"/>
<text x="987.18" y="455.8" font-size="13.5" fill="#ff0000" font-weight="bold" textLength="33.13" lengthAdjust="spacingAndGlyphs">PWD</text>
<text x="987.67" y="525" font-size="13.5" fill="#ff0000" font-weight="bold" textLength="32.64" lengthAdjust="spacingAndGlyphs">SMO</text>
<polygon points="1090,435.2 1169.7,435.2 1191,481.5 1169.7,527.7 1090,527.7 1067.4,481.5" fill="#f2f2f2" stroke="#8faadc" stroke-width="1"/>
<g stroke="#b3c2aa" stroke-width="0.45"><line x1="1088.4" y1="455.8" x2="1117.7" y2="442.8"/><line x1="1088.4" y1="455.8" x2="1117.7" y2="462.3"/><line x1="1088.4" y1="455.8" x2="1117.7" y2="481.8"/><line x1="1088.4" y1="455.8" x2="1117.7" y2="501.3"/><line x1="1088.4" y1="455.8" x2="1117.7" y2="520.1"/><line x1="1088.4" y1="480.2" x2="1117.7" y2="442.8"/><line x1="1088.4" y1="480.2" x2="1117.7" y2="462.3"/><line x1="1088.4" y1="480.2" x2="1117.7" y2="481.8"/><line x1="1088.4" y1="480.2" x2="1117.7" y2="501.3"/><line x1="1088.4" y1="480.2" x2="1117.7" y2="520.1"/><line x1="1088.4" y1="504.5" x2="1117.7" y2="442.8"/><line x1="1088.4" y1="504.5" x2="1117.7" y2="462.3"/><line x1="1088.4" y1="504.5" x2="1117.7" y2="481.8"/><line x1="1088.4" y1="504.5" x2="1117.7" y2="501.3"/><line x1="1088.4" y1="504.5" x2="1117.7" y2="520.1"/><line x1="1117.7" y1="442.8" x2="1144.8" y2="442.8"/><line x1="1117.7" y1="442.8" x2="1144.8" y2="462.3"/><line x1="1117.7" y1="442.8" x2="1144.8" y2="481.8"/><line x1="1117.7" y1="442.8" x2="1144.8" y2="501.3"/><line x1="1117.7" y1="442.8" x2="1144.8" y2="520.1"/><line x1="1117.7" y1="462.3" x2="1144.8" y2="442.8"/><line x1="1117.7" y1="462.3" x2="1144.8" y2="462.3"/><line x1="1117.7" y1="462.3" x2="1144.8" y2="481.8"/><line x1="1117.7" y1="462.3" x2="1144.8" y2="501.3"/><line x1="1117.7" y1="462.3" x2="1144.8" y2="520.1"/><line x1="1117.7" y1="481.8" x2="1144.8" y2="442.8"/><line x1="1117.7" y1="481.8" x2="1144.8" y2="462.3"/><line x1="1117.7" y1="481.8" x2="1144.8" y2="481.8"/><line x1="1117.7" y1="481.8" x2="1144.8" y2="501.3"/><line x1="1117.7" y1="481.8" x2="1144.8" y2="520.1"/><line x1="1117.7" y1="501.3" x2="1144.8" y2="442.8"/><line x1="1117.7" y1="501.3" x2="1144.8" y2="462.3"/><line x1="1117.7" y1="501.3" x2="1144.8" y2="481.8"/><line x1="1117.7" y1="501.3" x2="1144.8" y2="501.3"/><line x1="1117.7" y1="501.3" x2="1144.8" y2="520.1"/><line x1="1117.7" y1="520.1" x2="1144.8" y2="442.8"/><line x1="1117.7" y1="520.1" x2="1144.8" y2="462.3"/><line x1="1117.7" y1="520.1" x2="1144.8" y2="481.8"/><line x1="1117.7" y1="520.1" x2="1144.8" y2="501.3"/><line x1="1117.7" y1="520.1" x2="1144.8" y2="520.1"/><line x1="1144.8" y1="442.8" x2="1173.6" y2="462.7"/><line x1="1144.8" y1="442.8" x2="1173.6" y2="501.3"/><line x1="1144.8" y1="462.3" x2="1173.6" y2="462.7"/><line x1="1144.8" y1="462.3" x2="1173.6" y2="501.3"/><line x1="1144.8" y1="481.8" x2="1173.6" y2="462.7"/><line x1="1144.8" y1="481.8" x2="1173.6" y2="501.3"/><line x1="1144.8" y1="501.3" x2="1173.6" y2="462.7"/><line x1="1144.8" y1="501.3" x2="1173.6" y2="501.3"/><line x1="1144.8" y1="520.1" x2="1173.6" y2="462.7"/><line x1="1144.8" y1="520.1" x2="1173.6" y2="501.3"/></g>
<circle cx="1088.4" cy="455.8" r="6" fill="#bdd7ee" stroke="#8faadc" stroke-width="0.8"/>
<circle cx="1088.4" cy="480.2" r="6" fill="#bdd7ee" stroke="#8faadc" stroke-width="0.8"/>
<circle cx="1088.4" cy="504.5" r="6" fill="#bdd7ee" stroke="#8faadc" stroke-width="0.8"/>
<circle cx="1117.7" cy="442.8" r="6" fill="#c5e0b4" stroke="#8faadc" stroke-width="0.8"/>
<circle cx="1111.4" cy="443.1" r="1.3" fill="#2a5a1a"/>
<circle cx="1117.7" cy="462.3" r="6" fill="#c5e0b4" stroke="#8faadc" stroke-width="0.8"/>
<circle cx="1111.4" cy="462.6" r="1.3" fill="#2a5a1a"/>
<circle cx="1117.7" cy="481.8" r="6" fill="#c5e0b4" stroke="#8faadc" stroke-width="0.8"/>
<circle cx="1111.4" cy="482.1" r="1.3" fill="#2a5a1a"/>
<circle cx="1117.7" cy="501.3" r="6" fill="#c5e0b4" stroke="#8faadc" stroke-width="0.8"/>
<circle cx="1111.4" cy="501.6" r="1.3" fill="#2a5a1a"/>
<circle cx="1117.7" cy="520.1" r="6" fill="#c5e0b4" stroke="#8faadc" stroke-width="0.8"/>
<circle cx="1111.4" cy="520.4" r="1.3" fill="#2a5a1a"/>
<circle cx="1144.8" cy="442.8" r="6" fill="#c5e0b4" stroke="#8faadc" stroke-width="0.8"/>
<circle cx="1138.5" cy="443.1" r="1.3" fill="#2a5a1a"/>
<circle cx="1144.8" cy="462.3" r="6" fill="#c5e0b4" stroke="#8faadc" stroke-width="0.8"/>
<circle cx="1138.5" cy="462.6" r="1.3" fill="#2a5a1a"/>
<circle cx="1144.8" cy="481.8" r="6" fill="#c5e0b4" stroke="#8faadc" stroke-width="0.8"/>
<circle cx="1138.5" cy="482.1" r="1.3" fill="#2a5a1a"/>
<circle cx="1144.8" cy="501.3" r="6" fill="#c5e0b4" stroke="#8faadc" stroke-width="0.8"/>
<circle cx="1138.5" cy="501.6" r="1.3" fill="#2a5a1a"/>
<circle cx="1144.8" cy="520.1" r="6" fill="#c5e0b4" stroke="#8faadc" stroke-width="0.8"/>
<circle cx="1138.5" cy="520.4" r="1.3" fill="#2a5a1a"/>
<circle cx="1173.6" cy="462.7" r="6" fill="#f8cbad" stroke="#c9a08a" stroke-width="0.8"/>
<circle cx="1167.3" cy="463.0" r="1.3" fill="#2a5a1a"/>
<circle cx="1173.6" cy="501.3" r="6" fill="#f8cbad" stroke="#c9a08a" stroke-width="0.8"/>
<circle cx="1167.3" cy="501.6" r="1.3" fill="#2a5a1a"/>
<text x="1037.70" y="563" font-size="18.5" fill="#ff0000" textLength="72.87" lengthAdjust="spacingAndGlyphs">KPrFunc</text>
<polygon points="936.00,420.50 918.30,420.50 918.30,379.80 895.70,449.50 918.30,519.70 918.30,478.90 936.00,478.90" fill="#2f5597"/><polygon points="931.00,425.50 913.30,425.50 913.30,411.43 900.95,449.51 913.30,487.85 913.30,473.90 931.00,473.90" fill="#fff"/>
<text x="0.69" y="652.3" font-size="32" fill="#000" font-weight="bold" textLength="19.84" lengthAdjust="spacingAndGlyphs">b</text>
<ellipse cx="229.7" cy="787.6" rx="98.8" ry="151.4" transform="rotate(-21.7 229.7 787.6)" fill="#f8928a" stroke="#333" stroke-width="1.2"/>
<text x="155.70" y="685.6" font-size="20" fill="#2f56a6" textLength="94.71" lengthAdjust="spacingAndGlyphs" stroke="#2f56a6" stroke-width="0.35">blw_K64pr</text>
<text x="158.10" y="731.6" font-size="20" fill="#2f56a6" textLength="119.26" lengthAdjust="spacingAndGlyphs" stroke="#2f56a6" stroke-width="0.35">Sod2_K111pr</text>
<text x="178.95" y="805.4" font-size="51" fill="#000" textLength="85.69" lengthAdjust="spacingAndGlyphs">336</text>
<text x="169.00" y="843.6" font-size="20" fill="#2f56a6" textLength="142.35" lengthAdjust="spacingAndGlyphs" stroke="#2f56a6" stroke-width="0.35">Atpalpha_K87pr</text>
<text x="203.70" y="881" font-size="20" fill="#2f56a6" textLength="96.64" lengthAdjust="spacingAndGlyphs" stroke="#2f56a6" stroke-width="0.35">kdn_K54pr</text>
<text x="246.78" y="910" font-size="20" fill="#2f56a6" textLength="20.52" lengthAdjust="spacingAndGlyphs" stroke="#2f56a6" stroke-width="0.35">...</text>
<circle cx="370.3" cy="719.6" r="41" fill="#7fb0fb" stroke="#222" stroke-width="1.3"/>
<text x="353.09" y="738" font-size="51" fill="#000" textLength="31.22" lengthAdjust="spacingAndGlyphs">6</text>
<circle cx="379" cy="878" r="31" fill="#34c55d" stroke="#222" stroke-width="1.3"/>
<text x="368.10" y="888.7" font-size="32" fill="#000" textLength="21.15" lengthAdjust="spacingAndGlyphs">2</text>
<text x="126.96" y="948" font-size="26.5" fill="#000" textLength="112.32" lengthAdjust="spacingAndGlyphs">LP score</text>
<circle cx="146" cy="982.4" r="20.2" fill="#f8928a" stroke="#222" stroke-width="1.3"/>
<circle cx="223.5" cy="982.4" r="20.4" fill="#7fb0fb" stroke="#222" stroke-width="1.3"/>
<circle cx="357" cy="982.4" r="20.2" fill="#34c55d" stroke="#222" stroke-width="1.3"/>
<text x="173.86" y="989.8" font-size="26" fill="#000" textLength="15.85" lengthAdjust="spacingAndGlyphs">1</text>
<text x="252.97" y="989.8" font-size="26" fill="#000" textLength="72.18" lengthAdjust="spacingAndGlyphs">&gt;0.98</text>
<text x="386.67" y="989.8" font-size="26" fill="#000" textLength="39.37" lengthAdjust="spacingAndGlyphs">0.5</text>
<text x="530.38" y="653" font-size="32" fill="#000" font-weight="bold" textLength="18.35" lengthAdjust="spacingAndGlyphs">c</text>
<line x1="597.3" y1="679.9" x2="597.3" y2="931.4" stroke="#000" stroke-width="2.7"/>
<line x1="586.4" y1="930.2" x2="970.4" y2="930.2" stroke="#000" stroke-width="2.7"/>
<line x1="586.4" y1="930.1" x2="598" y2="930.1" stroke="#000" stroke-width="2.6"/>
<text x="573.09" y="936.9" font-size="18.7" fill="#000" font-weight="bold" textLength="11.24" lengthAdjust="spacingAndGlyphs">0</text>
<line x1="586.4" y1="867.9" x2="598" y2="867.9" stroke="#000" stroke-width="2.6"/>
<text x="563.08" y="874.7" font-size="18.7" fill="#000" font-weight="bold" textLength="21.23" lengthAdjust="spacingAndGlyphs">20</text>
<line x1="586.4" y1="805.7" x2="598" y2="805.7" stroke="#000" stroke-width="2.6"/>
<text x="563.47" y="812.5" font-size="18.7" fill="#000" font-weight="bold" textLength="20.82" lengthAdjust="spacingAndGlyphs">40</text>
<line x1="586.4" y1="743.4" x2="598" y2="743.4" stroke="#000" stroke-width="2.6"/>
<text x="563.08" y="750.2" font-size="18.7" fill="#000" font-weight="bold" textLength="21.23" lengthAdjust="spacingAndGlyphs">60</text>
<line x1="586.4" y1="681.2" x2="598" y2="681.2" stroke="#000" stroke-width="2.6"/>
<text x="563.18" y="688.0" font-size="18.7" fill="#000" font-weight="bold" textLength="21.12" lengthAdjust="spacingAndGlyphs">80</text>
<line x1="627.2" y1="930" x2="627.2" y2="941" stroke="#000" stroke-width="2.6"/>
<text x="621.53" y="961" font-size="19.3" fill="#000" font-weight="bold" textLength="11.36" lengthAdjust="spacingAndGlyphs">0</text>
<line x1="671.9" y1="930" x2="671.9" y2="941" stroke="#000" stroke-width="2.6"/>
<text x="666.56" y="961" font-size="19.3" fill="#000" font-weight="bold" textLength="10.90" lengthAdjust="spacingAndGlyphs">3</text>
<line x1="716.3" y1="930" x2="716.3" y2="941" stroke="#000" stroke-width="2.6"/>
<text x="710.75" y="961" font-size="19.3" fill="#000" font-weight="bold" textLength="11.12" lengthAdjust="spacingAndGlyphs">6</text>
<line x1="760.8" y1="930" x2="760.8" y2="941" stroke="#000" stroke-width="2.6"/>
<text x="755.25" y="961" font-size="19.3" fill="#000" font-weight="bold" textLength="11.12" lengthAdjust="spacingAndGlyphs">9</text>
<line x1="806.0" y1="930" x2="806.0" y2="941" stroke="#000" stroke-width="2.6"/>
<text x="794.70" y="961" font-size="19.3" fill="#000" font-weight="bold" textLength="22.25" lengthAdjust="spacingAndGlyphs">12</text>
<line x1="850.5" y1="930" x2="850.5" y2="941" stroke="#000" stroke-width="2.6"/>
<text x="839.22" y="961" font-size="19.3" fill="#000" font-weight="bold" textLength="21.92" lengthAdjust="spacingAndGlyphs">15</text>
<line x1="895.6" y1="930" x2="895.6" y2="941" stroke="#000" stroke-width="2.6"/>
<text x="884.31" y="961" font-size="19.3" fill="#000" font-weight="bold" textLength="22.03" lengthAdjust="spacingAndGlyphs">18</text>
<line x1="940.5" y1="930" x2="940.5" y2="941" stroke="#000" stroke-width="2.6"/>
<text x="929.73" y="961" font-size="19.3" fill="#000" font-weight="bold" textLength="21.40" lengthAdjust="spacingAndGlyphs">21</text>
<text x="687.26" y="1001.5" font-size="21" fill="#000" textLength="174.73" lengthAdjust="spacingAndGlyphs">Zeitgeber Time (h)</text>
<text transform="translate(550.5,915.4) rotate(-90)" x="-0.83" y="0" font-size="21.5" fill="#000" font-weight="bold" textLength="221.69" lengthAdjust="spacingAndGlyphs">Concentration (pg/mL)</text>
<path d="M627.2 791 V832 M621.7 791 H632.7 M621.7 832 H632.7" stroke="#ff0a6c" stroke-width="1.8" fill="none"/>
<path d="M671.9 794 V816 M666.4 794 H677.4 M666.4 816 H677.4" stroke="#ff0a6c" stroke-width="1.8" fill="none"/>
<path d="M716.3 786 V798 M710.8 786 H721.8 M710.8 798 H721.8" stroke="#ff0a6c" stroke-width="1.8" fill="none"/>
<path d="M760.8 769.5 V798 M755.3 769.5 H766.3 M755.3 798 H766.3" stroke="#ff0a6c" stroke-width="1.8" fill="none"/>
<path d="M806.0 780 V814.5 M800.5 780 H811.5 M800.5 814.5 H811.5" stroke="#ff0a6c" stroke-width="1.8" fill="none"/>
<path d="M850.5 743 V776 M845.0 743 H856.0 M845.0 776 H856.0" stroke="#ff0a6c" stroke-width="1.8" fill="none"/>
<path d="M895.6 751 V781.5 M890.1 751 H901.1 M890.1 781.5 H901.1" stroke="#ff0a6c" stroke-width="1.8" fill="none"/>
<path d="M940.5 717.6 V748.5 M935.0 717.6 H946.0 M935.0 748.5 H946.0" stroke="#ff0a6c" stroke-width="1.8" fill="none"/>
<path d="M627.2 820 V853.5 M621.7 820 H632.7 M621.7 853.5 H632.7" stroke="#000" stroke-width="1.8" fill="none"/>
<path d="M671.9 812.4 V838.5 M666.4 812.4 H677.4 M666.4 838.5 H677.4" stroke="#000" stroke-width="1.8" fill="none"/>
<path d="M716.3 748.8 V828.6 M710.8 748.8 H721.8 M710.8 828.6 H721.8" stroke="#000" stroke-width="1.8" fill="none"/>
<path d="M760.8 805 V837.6 M755.3 805 H766.3 M755.3 837.6 H766.3" stroke="#000" stroke-width="1.8" fill="none"/>
<path d="M806.0 805.5 V823 M800.5 805.5 H811.5 M800.5 823 H811.5" stroke="#000" stroke-width="1.8" fill="none"/>
<path d="M850.5 802.5 V813.6 M845.0 802.5 H856.0 M845.0 813.6 H856.0" stroke="#000" stroke-width="1.8" fill="none"/>
<path d="M895.6 766.5 V796.5 M890.1 766.5 H901.1 M890.1 796.5 H901.1" stroke="#000" stroke-width="1.8" fill="none"/>
<path d="M940.5 766.5 V798.6 M935.0 766.5 H946.0 M935.0 798.6 H946.0" stroke="#000" stroke-width="1.8" fill="none"/>
<rect x="624.4" y="784.0" width="5.2" height="5.2" fill="#ff0a6c"/>
<rect x="624.4" y="799.0" width="5.2" height="5.2" fill="#ff0a6c"/>
<rect x="624.4" y="823.0" width="5.2" height="5.2" fill="#ff0a6c"/>
<rect x="614.4" y="826.9" width="5.2" height="5.2" fill="#ff0a6c"/>
<rect x="669.4" y="788.4" width="5.2" height="5.2" fill="#ff0a6c"/>
<rect x="658.9" y="813.4" width="5.2" height="5.2" fill="#ff0a6c"/>
<rect x="679.0" y="805.9" width="5.2" height="5.2" fill="#ff0a6c"/>
<rect x="718.9" y="799.0" width="5.2" height="5.2" fill="#ff0a6c"/>
<rect x="714.4" y="784.9" width="5.2" height="5.2" fill="#ff0a6c"/>
<rect x="709.4" y="787.4" width="5.2" height="5.2" fill="#ff0a6c"/>
<rect x="759.4" y="766.9" width="5.2" height="5.2" fill="#ff0a6c"/>
<rect x="763.9" y="800.8" width="5.2" height="5.2" fill="#ff0a6c"/>
<rect x="804.4" y="775.0" width="5.2" height="5.2" fill="#ff0a6c"/>
<rect x="804.4" y="817.9" width="5.2" height="5.2" fill="#ff0a6c"/>
<rect x="848.8" y="742.9" width="5.2" height="5.2" fill="#ff0a6c"/>
<rect x="853.9" y="751.0" width="5.2" height="5.2" fill="#ff0a6c"/>
<rect x="848.8" y="781.0" width="5.2" height="5.2" fill="#ff0a6c"/>
<rect x="893.8" y="746.4" width="5.2" height="5.2" fill="#ff0a6c"/>
<rect x="898.9" y="769.0" width="5.2" height="5.2" fill="#ff0a6c"/>
<rect x="888.4" y="783.4" width="5.2" height="5.2" fill="#ff0a6c"/>
<rect x="934.0" y="720.4" width="5.2" height="5.2" fill="#ff0a6c"/>
<rect x="943.9" y="720.4" width="5.2" height="5.2" fill="#ff0a6c"/>
<rect x="938.8" y="753.4" width="5.2" height="5.2" fill="#ff0a6c"/>
<circle cx="627" cy="858.6" r="2.6" fill="#000"/>
<circle cx="637.2" cy="826.8" r="2.6" fill="#000"/>
<circle cx="627" cy="820" r="2.6" fill="#000"/>
<circle cx="672" cy="840" r="2.6" fill="#000"/>
<circle cx="672" cy="831.6" r="2.6" fill="#000"/>
<circle cx="681.6" cy="816" r="2.6" fill="#000"/>
<circle cx="672" cy="813" r="2.6" fill="#000"/>
<circle cx="717" cy="729.3" r="2.6" fill="#000"/>
<circle cx="717" cy="819" r="2.6" fill="#000"/>
<circle cx="712.5" cy="806" r="2.6" fill="#000"/>
<circle cx="712.5" cy="799.5" r="2.6" fill="#000"/>
<circle cx="762" cy="843.6" r="2.6" fill="#000"/>
<circle cx="756.6" cy="806" r="2.6" fill="#000"/>
<circle cx="762" cy="811" r="2.6" fill="#000"/>
<circle cx="807" cy="825.6" r="2.6" fill="#000"/>
<circle cx="807" cy="805.5" r="2.6" fill="#000"/>
<circle cx="812" cy="811" r="2.6" fill="#000"/>
<circle cx="851.4" cy="816.6" r="2.6" fill="#000"/>
<circle cx="846.6" cy="802.5" r="2.6" fill="#000"/>
<circle cx="855.6" cy="802.5" r="2.6" fill="#000"/>
<circle cx="896.4" cy="801" r="2.6" fill="#000"/>
<circle cx="891" cy="774.6" r="2.6" fill="#000"/>
<circle cx="896.4" cy="765.6" r="2.6" fill="#000"/>
<circle cx="901.5" cy="783.6" r="2.6" fill="#000"/>
<circle cx="941.4" cy="805" r="2.6" fill="#000"/>
<circle cx="936.6" cy="773" r="2.6" fill="#000"/>
<circle cx="946.5" cy="768.6" r="2.6" fill="#000"/>
<polyline points="627.2,811.5 671.9,805 716.3,792 760.8,783 806.0,798 850.5,759 895.6,766.5 940.5,733" fill="none" stroke="#ff0a6c" stroke-width="3.2"/>
<polyline points="627.2,837 671.9,825 716.3,789 760.8,821 806.0,814 850.5,807 895.6,781.5 940.5,782.4" fill="none" stroke="#000" stroke-width="3.2"/>
<rect x="621.7" y="806.0" width="11" height="11" fill="#ff0a6c"/>
<rect x="666.4" y="799.5" width="11" height="11" fill="#ff0a6c"/>
<rect x="710.8" y="786.5" width="11" height="11" fill="#ff0a6c"/>
<rect x="755.3" y="777.5" width="11" height="11" fill="#ff0a6c"/>
<rect x="800.5" y="792.5" width="11" height="11" fill="#ff0a6c"/>
<rect x="845.0" y="753.5" width="11" height="11" fill="#ff0a6c"/>
<rect x="890.1" y="761.0" width="11" height="11" fill="#ff0a6c"/>
<rect x="935.0" y="727.5" width="11" height="11" fill="#ff0a6c"/>
<circle cx="627.2" cy="837" r="5.6" fill="#000"/>
<circle cx="671.9" cy="825" r="5.6" fill="#000"/>
<circle cx="716.3" cy="789" r="5.6" fill="#000"/>
<circle cx="760.8" cy="821" r="5.6" fill="#000"/>
<circle cx="806.0" cy="814" r="5.6" fill="#000"/>
<circle cx="850.5" cy="807" r="5.6" fill="#000"/>
<circle cx="895.6" cy="781.5" r="5.6" fill="#000"/>
<circle cx="940.5" cy="782.4" r="5.6" fill="#000"/>
<line x1="1027.5" y1="698.3" x2="1053.7" y2="698.3" stroke="#000" stroke-width="3"/>
<circle cx="1040.5" cy="698.3" r="4.8" fill="#000"/>
<line x1="1027.5" y1="732" x2="1053.7" y2="732" stroke="#ff0a6c" stroke-width="3"/>
<rect x="1035.3" y="727" width="10.5" height="10" fill="#ff0a6c"/>
<text x="1069.2" y="705.8" font-size="20.3" fill="#000" text-anchor="start">Acetyl-CoA</text>
<text x="1069.2" y="739.2" font-size="20.3" fill="#000" text-anchor="start">Propionyl-CoA</text>
<text x="-2.39" y="1078.7" font-size="32.5" fill="#000" font-weight="bold" textLength="21.17" lengthAdjust="spacingAndGlyphs">d</text>
<line x1="414.6" y1="1051" x2="414.6" y2="1578" stroke="#ebebeb" stroke-width="1"/><line x1="432.0" y1="1051" x2="432.0" y2="1578" stroke="#f5f5f5" stroke-width="1"/><line x1="449.5" y1="1051" x2="449.5" y2="1578" stroke="#ebebeb" stroke-width="1"/><line x1="466.9" y1="1051" x2="466.9" y2="1578" stroke="#f5f5f5" stroke-width="1"/><line x1="484.3" y1="1051" x2="484.3" y2="1578" stroke="#ebebeb" stroke-width="1"/><line x1="501.7" y1="1051" x2="501.7" y2="1578" stroke="#f5f5f5" stroke-width="1"/><line x1="411" y1="1082.0" x2="512" y2="1082.0" stroke="#ebebeb" stroke-width="1"/><line x1="411" y1="1133.7" x2="512" y2="1133.7" stroke="#ebebeb" stroke-width="1"/><line x1="411" y1="1185.3" x2="512" y2="1185.3" stroke="#ebebeb" stroke-width="1"/><line x1="411" y1="1237.0" x2="512" y2="1237.0" stroke="#ebebeb" stroke-width="1"/><line x1="411" y1="1288.7" x2="512" y2="1288.7" stroke="#ebebeb" stroke-width="1"/><line x1="411" y1="1340.3" x2="512" y2="1340.3" stroke="#ebebeb" stroke-width="1"/><line x1="411" y1="1392.0" x2="512" y2="1392.0" stroke="#ebebeb" stroke-width="1"/><line x1="411" y1="1443.7" x2="512" y2="1443.7" stroke="#ebebeb" stroke-width="1"/><line x1="411" y1="1495.4" x2="512" y2="1495.4" stroke="#ebebeb" stroke-width="1"/><line x1="411" y1="1547.0" x2="512" y2="1547.0" stroke="#ebebeb" stroke-width="1"/>
<rect x="414.6" y="1058.8" width="28.3" height="46.5" fill="#f87e6f"/>
<rect x="414.6" y="1110.4" width="52.4" height="46.5" fill="#de9580"/>
<rect x="414.6" y="1162.1" width="58.8" height="46.5" fill="#d19e85"/>
<rect x="414.6" y="1213.8" width="93.6" height="46.5" fill="#9fbc9b"/>
<rect x="414.6" y="1265.4" width="93.6" height="46.5" fill="#9fbb9a"/>
<rect x="414.6" y="1317.1" width="33.0" height="46.5" fill="#8bc49f"/>
<rect x="414.6" y="1368.8" width="56.2" height="46.5" fill="#72c8a3"/>
<rect x="414.6" y="1420.4" width="56.2" height="46.5" fill="#72c8a3"/>
<rect x="414.6" y="1472.1" width="6.3" height="46.5" fill="#6ecaa5"/>
<rect x="414.6" y="1523.8" width="84.5" height="46.5" fill="#66cdaa"/>
<rect x="410.3" y="1050.7" width="102.5" height="527.7" fill="none" stroke="#4d4d4d" stroke-width="1.3"/>
<line x1="407" y1="1082.0" x2="410.3" y2="1082.0" stroke="#4d4d4d" stroke-width="1"/>
<line x1="407" y1="1133.7" x2="410.3" y2="1133.7" stroke="#4d4d4d" stroke-width="1"/>
<line x1="407" y1="1185.3" x2="410.3" y2="1185.3" stroke="#4d4d4d" stroke-width="1"/>
<line x1="407" y1="1237.0" x2="410.3" y2="1237.0" stroke="#4d4d4d" stroke-width="1"/>
<line x1="407" y1="1288.7" x2="410.3" y2="1288.7" stroke="#4d4d4d" stroke-width="1"/>
<line x1="407" y1="1340.3" x2="410.3" y2="1340.3" stroke="#4d4d4d" stroke-width="1"/>
<line x1="407" y1="1392.0" x2="410.3" y2="1392.0" stroke="#4d4d4d" stroke-width="1"/>
<line x1="407" y1="1443.7" x2="410.3" y2="1443.7" stroke="#4d4d4d" stroke-width="1"/>
<line x1="407" y1="1495.4" x2="410.3" y2="1495.4" stroke="#4d4d4d" stroke-width="1"/>
<line x1="407" y1="1547.0" x2="410.3" y2="1547.0" stroke="#4d4d4d" stroke-width="1"/>
<text x="118.81" y="1088.6" font-size="18" fill="#1a1a1a" font-weight="bold" textLength="285.75" lengthAdjust="spacingAndGlyphs">Proton transmembrane transport</text>
<text x="208.82" y="1140.3" font-size="18" fill="#1a1a1a" font-weight="bold" textLength="195.62" lengthAdjust="spacingAndGlyphs">Nucleosome assembly</text>
<text x="57.04" y="1191.9" font-size="18" fill="#1a1a1a" font-weight="bold" textLength="347.46" lengthAdjust="spacingAndGlyphs">ATP synthesis coupled proton transport</text>
<text x="192.81" y="1243.6" font-size="18" fill="#1a1a1a" font-weight="bold" textLength="212.72" lengthAdjust="spacingAndGlyphs">Nucleosome positioning</text>
<text x="37.81" y="1295.3" font-size="18" fill="#1a1a1a" font-weight="bold" textLength="367.62" lengthAdjust="spacingAndGlyphs">Negative regulation of DNA recombination</text>
<text x="118.81" y="1336.9" font-size="18" fill="#1a1a1a" font-weight="bold" textLength="286.74" lengthAdjust="spacingAndGlyphs">Mitochondrial electron transport,</text>
<text x="226.31" y="1356.6" font-size="18" fill="#1a1a1a" font-weight="bold" textLength="178.65" lengthAdjust="spacingAndGlyphs">NADH to ubiquinone</text>
<text x="36.31" y="1398.6" font-size="18" fill="#1a1a1a" font-weight="bold" textLength="369.19" lengthAdjust="spacingAndGlyphs">Negative regulation of chromatin silencing</text>
<text x="118.81" y="1440.3" font-size="18" fill="#1a1a1a" font-weight="bold" textLength="286.74" lengthAdjust="spacingAndGlyphs">Mitochondrial electron transport,</text>
<text x="176.40" y="1460.0" font-size="18" fill="#1a1a1a" font-weight="bold" textLength="228.46" lengthAdjust="spacingAndGlyphs">ubiquinol to cytochrome c</text>
<text x="151.77" y="1502.0" font-size="18" fill="#1a1a1a" font-weight="bold" textLength="253.25" lengthAdjust="spacingAndGlyphs">Oxidation&#8722;reduction process</text>
<text x="156.31" y="1543.6" font-size="18" fill="#1a1a1a" font-weight="bold" textLength="248.72" lengthAdjust="spacingAndGlyphs">Mitochondrial ATP synthesis</text>
<text x="186.77" y="1563.3" font-size="18" fill="#1a1a1a" font-weight="bold" textLength="217.79" lengthAdjust="spacingAndGlyphs">coupled proton transport</text>
<line x1="414.6" y1="1578.4" x2="414.6" y2="1581.5" stroke="#4d4d4d" stroke-width="1"/>
<text x="414.6" y="1593.3" font-size="12.5" fill="#1a1a1a" text-anchor="middle" font-weight="bold">0</text>
<line x1="449.5" y1="1578.4" x2="449.5" y2="1581.5" stroke="#4d4d4d" stroke-width="1"/>
<text x="449.5" y="1593.3" font-size="12.5" fill="#1a1a1a" text-anchor="middle" font-weight="bold">20</text>
<line x1="484.3" y1="1578.4" x2="484.3" y2="1581.5" stroke="#4d4d4d" stroke-width="1"/>
<text x="484.3" y="1593.3" font-size="12.5" fill="#1a1a1a" text-anchor="middle" font-weight="bold">40</text>
<text x="412.69" y="1627.3" font-size="30.5" fill="#2e8b57" textLength="96.13" lengthAdjust="spacingAndGlyphs">E-ratio</text>
<text transform="translate(26,1397.5) rotate(-90)" x="-1.63" y="0" font-size="33" fill="#2e8b57" textLength="141.22" lengthAdjust="spacingAndGlyphs">GO terms</text>
<text x="513.8" y="1272.4" font-size="12.5" font-weight="bold" textLength="73.5" lengthAdjust="spacingAndGlyphs">-lg(<tspan font-style="italic">p</tspan> value)</text>
<defs><linearGradient id="cbar" x1="0" y1="0" x2="0" y2="1"><stop offset="0" stop-color="#f8766d"/><stop offset="0.45" stop-color="#d39d84"/><stop offset="0.7" stop-color="#a9b592"/><stop offset="1" stop-color="#66cdaa"/></linearGradient></defs>
<rect x="529.2" y="1282.2" width="17.7" height="87.5" fill="url(#cbar)"/>
<line x1="529.2" y1="1292.5" x2="532.7" y2="1292.5" stroke="#fff" stroke-width="1"/><line x1="543.4" y1="1292.5" x2="546.9" y2="1292.5" stroke="#fff" stroke-width="1"/>
<line x1="529.2" y1="1318.7" x2="532.7" y2="1318.7" stroke="#fff" stroke-width="1"/><line x1="543.4" y1="1318.7" x2="546.9" y2="1318.7" stroke="#fff" stroke-width="1"/>
<line x1="529.2" y1="1344.4" x2="532.7" y2="1344.4" stroke="#fff" stroke-width="1"/><line x1="543.4" y1="1344.4" x2="546.9" y2="1344.4" stroke="#fff" stroke-width="1"/>
<text x="554.8" y="1297" font-size="13" fill="#1a1a1a" text-anchor="start" font-weight="bold">12</text>
<text x="554.8" y="1323.2" font-size="13" fill="#1a1a1a" text-anchor="start" font-weight="bold">10</text>
<text x="554.8" y="1348.9" font-size="13" fill="#1a1a1a" text-anchor="start" font-weight="bold">8</text>
<text x="598.36" y="1071.5" font-size="32" fill="#000" font-weight="bold" textLength="18.65" lengthAdjust="spacingAndGlyphs">e</text>
<defs><clipPath id="eclip"><rect x="580" y="1040" width="607" height="589"/></clipPath></defs>
<g clip-path="url(#eclip)"><polyline points="744.5,1109.9 744.5,1490.4 1178.1,1490.4" fill="none" stroke="#333" stroke-width="1.6"/><line x1="739.2" y1="1473.9" x2="744.5" y2="1473.9" stroke="#333" stroke-width="1.3"/><line x1="739.2" y1="1359.6" x2="744.5" y2="1359.6" stroke="#333" stroke-width="1.3"/><line x1="739.2" y1="1245.3" x2="744.5" y2="1245.3" stroke="#333" stroke-width="1.3"/><line x1="739.2" y1="1131.0" x2="744.5" y2="1131.0" stroke="#333" stroke-width="1.3"/><line x1="763.8" y1="1490.4" x2="763.8" y2="1495.5" stroke="#333" stroke-width="1.3"/><line x1="865.6" y1="1490.4" x2="865.6" y2="1495.5" stroke="#333" stroke-width="1.3"/><line x1="967.5" y1="1490.4" x2="967.5" y2="1495.5" stroke="#333" stroke-width="1.3"/><line x1="1069.3" y1="1490.4" x2="1069.3" y2="1495.5" stroke="#333" stroke-width="1.3"/><line x1="1171.2" y1="1490.4" x2="1171.2" y2="1495.5" stroke="#333" stroke-width="1.3"/><g fill="#f8766d"><circle cx="1160.5" cy="1126.1" r="3.1"/><circle cx="1030.7" cy="1231.2" r="3.1"/><circle cx="996.8" cy="1266.9" r="3.1"/><circle cx="904.5" cy="1319.2" r="3.1"/><circle cx="893.3" cy="1356.7" r="3.1"/><circle cx="901.7" cy="1356.7" r="3.1"/><circle cx="779.0" cy="1447.6" r="3.1"/><circle cx="879.2" cy="1370.8" r="3.1"/><circle cx="883.3" cy="1373.3" r="3.1"/><circle cx="872.5" cy="1380.0" r="3.1"/><circle cx="842.5" cy="1395.8" r="3.1"/><circle cx="835.8" cy="1402.5" r="3.1"/><circle cx="840.8" cy="1408.3" r="3.1"/><circle cx="830.8" cy="1413.3" r="3.1"/><circle cx="825.0" cy="1420.0" r="3.1"/><circle cx="821.7" cy="1424.2" r="3.1"/><circle cx="782.5" cy="1456.4" r="3.1"/><circle cx="798.7" cy="1440.7" r="3.1"/><circle cx="799.4" cy="1442.2" r="3.1"/><circle cx="788.6" cy="1449.6" r="3.1"/><circle cx="806.5" cy="1435.4" r="3.1"/><circle cx="770.7" cy="1467.0" r="3.1"/><circle cx="768.3" cy="1469.3" r="3.1"/><circle cx="803.9" cy="1438.9" r="3.1"/><circle cx="768.8" cy="1469.0" r="3.1"/><circle cx="769.3" cy="1469.1" r="3.1"/><circle cx="796.5" cy="1443.8" r="3.1"/><circle cx="792.4" cy="1448.9" r="3.1"/><circle cx="773.3" cy="1464.8" r="3.1"/><circle cx="764.1" cy="1473.6" r="3.1"/><circle cx="784.8" cy="1453.0" r="3.1"/><circle cx="824.9" cy="1420.7" r="3.1"/><circle cx="776.7" cy="1461.3" r="3.1"/><circle cx="776.6" cy="1461.6" r="3.1"/><circle cx="767.6" cy="1470.6" r="3.1"/><circle cx="765.9" cy="1472.1" r="3.1"/><circle cx="778.5" cy="1460.2" r="3.1"/><circle cx="779.2" cy="1460.4" r="3.1"/><circle cx="767.5" cy="1470.6" r="3.1"/><circle cx="797.4" cy="1440.0" r="3.1"/><circle cx="811.8" cy="1432.3" r="3.1"/><circle cx="765.0" cy="1472.7" r="3.1"/><circle cx="775.2" cy="1462.8" r="3.1"/><circle cx="771.1" cy="1467.2" r="3.1"/><circle cx="777.1" cy="1461.7" r="3.1"/><circle cx="780.6" cy="1459.5" r="3.1"/><circle cx="785.9" cy="1452.1" r="3.1"/><circle cx="767.5" cy="1470.5" r="3.1"/><circle cx="788.4" cy="1451.3" r="3.1"/><circle cx="767.8" cy="1470.4" r="3.1"/><circle cx="777.0" cy="1462.6" r="3.1"/><circle cx="804.8" cy="1433.8" r="3.1"/><circle cx="786.2" cy="1451.8" r="3.1"/><circle cx="782.0" cy="1457.2" r="3.1"/><circle cx="780.6" cy="1458.3" r="3.1"/><circle cx="824.9" cy="1414.1" r="3.1"/><circle cx="769.3" cy="1468.4" r="3.1"/><circle cx="788.8" cy="1449.5" r="3.1"/><circle cx="794.7" cy="1445.6" r="3.1"/><circle cx="805.4" cy="1432.7" r="3.1"/><circle cx="785.6" cy="1452.7" r="3.1"/><circle cx="790.4" cy="1449.5" r="3.1"/><circle cx="787.3" cy="1453.6" r="3.1"/><circle cx="771.5" cy="1466.8" r="3.1"/><circle cx="764.0" cy="1473.7" r="3.1"/><circle cx="782.5" cy="1456.2" r="3.1"/><circle cx="768.6" cy="1469.1" r="3.1"/><circle cx="783.9" cy="1455.7" r="3.1"/><circle cx="783.6" cy="1455.3" r="3.1"/><circle cx="777.8" cy="1461.1" r="3.1"/><circle cx="824.9" cy="1415.6" r="3.1"/><circle cx="785.9" cy="1452.4" r="3.1"/><circle cx="824.9" cy="1421.6" r="3.1"/><circle cx="781.3" cy="1456.9" r="3.1"/><circle cx="769.2" cy="1468.9" r="3.1"/><circle cx="764.7" cy="1473.1" r="3.1"/><circle cx="772.4" cy="1466.4" r="3.1"/><circle cx="769.1" cy="1468.6" r="3.1"/><circle cx="778.4" cy="1460.2" r="3.1"/><circle cx="824.9" cy="1416.3" r="3.1"/><circle cx="824.9" cy="1415.7" r="3.1"/><circle cx="794.2" cy="1447.6" r="3.1"/><circle cx="780.5" cy="1457.7" r="3.1"/><circle cx="764.6" cy="1473.1" r="3.1"/><circle cx="767.0" cy="1470.9" r="3.1"/><circle cx="767.2" cy="1470.7" r="3.1"/></g><g fill="#7f7f7f"><circle cx="1142.7" cy="1194.7" r="3.1"/><circle cx="1142.7" cy="1200.5" r="3.1"/><circle cx="1060.8" cy="1231.2" r="3.1"/><circle cx="1053.9" cy="1243.2" r="3.1"/><circle cx="1045.3" cy="1246.7" r="3.1"/><circle cx="1081.3" cy="1237.3" r="3.1"/><circle cx="1053.9" cy="1259.5" r="3.1"/><circle cx="1004.0" cy="1289.3" r="3.1"/><circle cx="1013.3" cy="1289.3" r="3.1"/><circle cx="974.7" cy="1300.5" r="3.1"/><circle cx="970.7" cy="1305.9" r="3.1"/><circle cx="979.2" cy="1302.7" r="3.1"/><circle cx="981.3" cy="1316.5" r="3.1"/><circle cx="955.2" cy="1315.2" r="3.1"/><circle cx="941.3" cy="1329.3" r="3.1"/><circle cx="948.8" cy="1335.2" r="3.1"/><circle cx="952.5" cy="1336.8" r="3.1"/><circle cx="937.3" cy="1348.5" r="3.1"/><circle cx="924.0" cy="1355.5" r="3.1"/><circle cx="920.5" cy="1362.7" r="3.1"/><circle cx="905.8" cy="1359.2" r="3.1"/><circle cx="898.3" cy="1367.5" r="3.1"/><circle cx="895.0" cy="1369.2" r="3.1"/><circle cx="888.3" cy="1370.8" r="3.1"/><circle cx="897.5" cy="1374.2" r="3.1"/><circle cx="898.3" cy="1378.3" r="3.1"/><circle cx="883.3" cy="1380.8" r="3.1"/><circle cx="889.2" cy="1381.7" r="3.1"/><circle cx="880.0" cy="1387.5" r="3.1"/><circle cx="886.7" cy="1390.0" r="3.1"/><circle cx="872.5" cy="1390.8" r="3.1"/><circle cx="869.2" cy="1396.7" r="3.1"/><circle cx="870.0" cy="1393.3" r="3.1"/><circle cx="859.2" cy="1405.0" r="3.1"/><circle cx="860.8" cy="1408.3" r="3.1"/><circle cx="850.8" cy="1403.3" r="3.1"/><circle cx="848.3" cy="1407.5" r="3.1"/><circle cx="845.0" cy="1413.3" r="3.1"/><circle cx="852.5" cy="1414.2" r="3.1"/><circle cx="836.7" cy="1415.8" r="3.1"/><circle cx="831.7" cy="1418.3" r="3.1"/><circle cx="835.8" cy="1424.2" r="3.1"/><circle cx="777.3" cy="1463.6" r="3.1"/><circle cx="821.6" cy="1430.4" r="3.1"/><circle cx="779.7" cy="1461.7" r="3.1"/><circle cx="768.4" cy="1470.4" r="3.1"/><circle cx="786.1" cy="1456.1" r="3.1"/><circle cx="766.0" cy="1472.3" r="3.1"/><circle cx="765.9" cy="1472.2" r="3.1"/><circle cx="790.3" cy="1455.6" r="3.1"/><circle cx="833.1" cy="1416.7" r="3.1"/><circle cx="787.6" cy="1455.5" r="3.1"/><circle cx="767.6" cy="1471.3" r="3.1"/><circle cx="780.6" cy="1462.2" r="3.1"/><circle cx="768.5" cy="1470.5" r="3.1"/><circle cx="764.5" cy="1473.4" r="3.1"/><circle cx="776.8" cy="1463.4" r="3.1"/><circle cx="780.2" cy="1461.1" r="3.1"/><circle cx="779.3" cy="1461.8" r="3.1"/><circle cx="777.5" cy="1464.0" r="3.1"/><circle cx="833.1" cy="1416.4" r="3.1"/><circle cx="804.9" cy="1441.5" r="3.1"/><circle cx="772.3" cy="1467.8" r="3.1"/><circle cx="771.4" cy="1468.6" r="3.1"/><circle cx="796.4" cy="1449.7" r="3.1"/><circle cx="805.8" cy="1442.8" r="3.1"/><circle cx="833.1" cy="1417.9" r="3.1"/><circle cx="763.8" cy="1473.9" r="3.1"/><circle cx="817.8" cy="1433.2" r="3.1"/><circle cx="833.1" cy="1422.5" r="3.1"/><circle cx="765.5" cy="1472.6" r="3.1"/><circle cx="797.6" cy="1449.4" r="3.1"/><circle cx="765.8" cy="1472.4" r="3.1"/><circle cx="833.1" cy="1418.8" r="3.1"/><circle cx="766.6" cy="1471.9" r="3.1"/><circle cx="766.2" cy="1472.2" r="3.1"/><circle cx="799.5" cy="1448.5" r="3.1"/><circle cx="782.2" cy="1460.1" r="3.1"/><circle cx="768.5" cy="1470.1" r="3.1"/><circle cx="766.9" cy="1471.5" r="3.1"/><circle cx="766.6" cy="1471.8" r="3.1"/><circle cx="769.2" cy="1470.0" r="3.1"/><circle cx="833.1" cy="1418.4" r="3.1"/><circle cx="771.9" cy="1467.3" r="3.1"/><circle cx="769.1" cy="1470.0" r="3.1"/><circle cx="807.0" cy="1440.3" r="3.1"/><circle cx="766.2" cy="1471.9" r="3.1"/><circle cx="769.2" cy="1470.0" r="3.1"/><circle cx="797.0" cy="1449.6" r="3.1"/><circle cx="771.7" cy="1468.4" r="3.1"/><circle cx="765.9" cy="1472.3" r="3.1"/><circle cx="770.0" cy="1469.1" r="3.1"/><circle cx="774.2" cy="1466.1" r="3.1"/><circle cx="833.1" cy="1421.6" r="3.1"/><circle cx="783.0" cy="1458.4" r="3.1"/><circle cx="768.3" cy="1470.7" r="3.1"/><circle cx="817.4" cy="1430.8" r="3.1"/><circle cx="770.2" cy="1469.3" r="3.1"/><circle cx="793.9" cy="1449.1" r="3.1"/><circle cx="768.7" cy="1469.9" r="3.1"/><circle cx="811.7" cy="1436.9" r="3.1"/><circle cx="776.1" cy="1465.3" r="3.1"/><circle cx="764.7" cy="1473.2" r="3.1"/><circle cx="769.9" cy="1469.1" r="3.1"/><circle cx="770.5" cy="1468.5" r="3.1"/><circle cx="784.1" cy="1459.1" r="3.1"/><circle cx="768.1" cy="1470.5" r="3.1"/><circle cx="765.4" cy="1472.8" r="3.1"/><circle cx="782.2" cy="1459.0" r="3.1"/><circle cx="785.1" cy="1458.4" r="3.1"/><circle cx="819.7" cy="1434.0" r="3.1"/><circle cx="764.2" cy="1473.6" r="3.1"/><circle cx="777.0" cy="1464.7" r="3.1"/><circle cx="768.1" cy="1470.7" r="3.1"/><circle cx="782.8" cy="1460.5" r="3.1"/><circle cx="773.9" cy="1465.7" r="3.1"/><circle cx="833.1" cy="1419.9" r="3.1"/><circle cx="790.1" cy="1453.6" r="3.1"/><circle cx="767.2" cy="1471.6" r="3.1"/><circle cx="764.2" cy="1473.6" r="3.1"/><circle cx="790.8" cy="1451.6" r="3.1"/><circle cx="764.3" cy="1473.5" r="3.1"/><circle cx="778.5" cy="1462.2" r="3.1"/><circle cx="772.4" cy="1466.8" r="3.1"/><circle cx="765.6" cy="1472.6" r="3.1"/><circle cx="793.7" cy="1449.5" r="3.1"/><circle cx="793.7" cy="1450.3" r="3.1"/><circle cx="799.1" cy="1445.0" r="3.1"/><circle cx="773.5" cy="1466.3" r="3.1"/><circle cx="815.6" cy="1431.9" r="3.1"/><circle cx="775.9" cy="1464.2" r="3.1"/><circle cx="808.4" cy="1439.6" r="3.1"/><circle cx="785.8" cy="1457.6" r="3.1"/><circle cx="783.4" cy="1458.8" r="3.1"/><circle cx="765.7" cy="1472.4" r="3.1"/><circle cx="833.1" cy="1417.6" r="3.1"/><circle cx="793.0" cy="1452.3" r="3.1"/><circle cx="793.6" cy="1451.0" r="3.1"/><circle cx="776.8" cy="1463.4" r="3.1"/><circle cx="765.8" cy="1472.3" r="3.1"/><circle cx="764.5" cy="1473.4" r="3.1"/><circle cx="778.5" cy="1463.3" r="3.1"/><circle cx="790.7" cy="1453.6" r="3.1"/><circle cx="785.2" cy="1456.4" r="3.1"/><circle cx="770.4" cy="1469.4" r="3.1"/><circle cx="771.8" cy="1467.6" r="3.1"/><circle cx="768.9" cy="1470.3" r="3.1"/><circle cx="816.7" cy="1432.6" r="3.1"/><circle cx="776.9" cy="1463.3" r="3.1"/><circle cx="772.7" cy="1467.0" r="3.1"/><circle cx="768.8" cy="1470.2" r="3.1"/><circle cx="800.5" cy="1443.8" r="3.1"/><circle cx="811.4" cy="1438.7" r="3.1"/><circle cx="783.4" cy="1459.6" r="3.1"/><circle cx="767.1" cy="1471.4" r="3.1"/><circle cx="804.5" cy="1441.0" r="3.1"/><circle cx="791.6" cy="1451.0" r="3.1"/><circle cx="771.1" cy="1468.7" r="3.1"/><circle cx="777.2" cy="1464.2" r="3.1"/><circle cx="769.2" cy="1469.9" r="3.1"/><circle cx="785.8" cy="1457.2" r="3.1"/><circle cx="772.3" cy="1467.0" r="3.1"/><circle cx="833.1" cy="1421.9" r="3.1"/><circle cx="765.5" cy="1472.7" r="3.1"/><circle cx="810.0" cy="1442.0" r="3.1"/><circle cx="791.4" cy="1452.7" r="3.1"/><circle cx="772.1" cy="1467.3" r="3.1"/><circle cx="764.2" cy="1473.6" r="3.1"/><circle cx="777.4" cy="1464.5" r="3.1"/><circle cx="803.5" cy="1445.4" r="3.1"/><circle cx="767.2" cy="1471.5" r="3.1"/><circle cx="786.0" cy="1457.2" r="3.1"/><circle cx="786.1" cy="1456.5" r="3.1"/><circle cx="800.7" cy="1443.5" r="3.1"/><circle cx="789.6" cy="1455.5" r="3.1"/><circle cx="778.2" cy="1463.6" r="3.1"/><circle cx="764.0" cy="1473.7" r="3.1"/><circle cx="791.9" cy="1454.0" r="3.1"/><circle cx="770.9" cy="1468.7" r="3.1"/><circle cx="790.6" cy="1453.5" r="3.1"/><circle cx="785.2" cy="1456.9" r="3.1"/><circle cx="775.0" cy="1464.9" r="3.1"/><circle cx="816.8" cy="1436.9" r="3.1"/><circle cx="824.2" cy="1426.2" r="3.1"/><circle cx="766.9" cy="1471.6" r="3.1"/><circle cx="785.8" cy="1455.9" r="3.1"/><circle cx="774.4" cy="1465.8" r="3.1"/><circle cx="811.2" cy="1436.0" r="3.1"/><circle cx="828.5" cy="1425.2" r="3.1"/><circle cx="787.4" cy="1457.0" r="3.1"/><circle cx="792.5" cy="1450.8" r="3.1"/><circle cx="786.8" cy="1455.8" r="3.1"/><circle cx="769.2" cy="1469.5" r="3.1"/><circle cx="833.1" cy="1416.6" r="3.1"/><circle cx="781.1" cy="1460.1" r="3.1"/><circle cx="772.5" cy="1466.8" r="3.1"/><circle cx="807.2" cy="1442.0" r="3.1"/><circle cx="765.7" cy="1472.5" r="3.1"/><circle cx="781.7" cy="1459.6" r="3.1"/><circle cx="778.8" cy="1463.6" r="3.1"/><circle cx="800.9" cy="1448.1" r="3.1"/><circle cx="799.8" cy="1448.3" r="3.1"/><circle cx="772.9" cy="1466.6" r="3.1"/><circle cx="767.2" cy="1471.5" r="3.1"/><circle cx="780.1" cy="1461.0" r="3.1"/><circle cx="804.9" cy="1441.7" r="3.1"/><circle cx="829.1" cy="1424.5" r="3.1"/><circle cx="830.5" cy="1427.4" r="3.1"/><circle cx="769.4" cy="1469.6" r="3.1"/><circle cx="771.5" cy="1467.8" r="3.1"/><circle cx="786.6" cy="1456.5" r="3.1"/><circle cx="805.4" cy="1442.0" r="3.1"/><circle cx="772.2" cy="1467.7" r="3.1"/><circle cx="805.6" cy="1439.8" r="3.1"/><circle cx="769.0" cy="1469.7" r="3.1"/><circle cx="833.1" cy="1421.2" r="3.1"/><circle cx="782.9" cy="1460.3" r="3.1"/><circle cx="781.0" cy="1460.9" r="3.1"/><circle cx="784.6" cy="1459.6" r="3.1"/><circle cx="833.1" cy="1421.3" r="3.1"/><circle cx="775.3" cy="1464.7" r="3.1"/><circle cx="782.3" cy="1459.9" r="3.1"/><circle cx="790.1" cy="1455.6" r="3.1"/><circle cx="781.1" cy="1461.0" r="3.1"/><circle cx="833.1" cy="1417.2" r="3.1"/><circle cx="770.8" cy="1468.6" r="3.1"/><circle cx="766.8" cy="1471.6" r="3.1"/><circle cx="801.7" cy="1443.0" r="3.1"/><circle cx="778.3" cy="1463.3" r="3.1"/><circle cx="768.6" cy="1470.2" r="3.1"/><circle cx="821.9" cy="1433.0" r="3.1"/><circle cx="797.7" cy="1450.6" r="3.1"/><circle cx="768.6" cy="1470.4" r="3.1"/><circle cx="789.8" cy="1454.9" r="3.1"/><circle cx="773.6" cy="1466.3" r="3.1"/><circle cx="766.3" cy="1471.9" r="3.1"/><circle cx="766.7" cy="1471.7" r="3.1"/><circle cx="770.3" cy="1469.3" r="3.1"/><circle cx="780.7" cy="1461.2" r="3.1"/><circle cx="774.4" cy="1466.0" r="3.1"/><circle cx="780.7" cy="1461.9" r="3.1"/><circle cx="768.9" cy="1469.9" r="3.1"/></g><line x1="744.5" y1="1490" x2="1180" y2="1123.5" stroke="#4da06f" stroke-width="1.3" stroke-dasharray="5 4"/><g stroke="#ff4d4d" stroke-width="0.9" stroke-dasharray="2.5 2"><line x1="822.5" y1="1362.5" x2="817.5" y2="1420"/><line x1="783.75" y1="1386.25" x2="795" y2="1437.5"/><line x1="710" y1="1436.25" x2="775" y2="1456.25"/><line x1="747.5" y1="1426" x2="780" y2="1447.5"/><line x1="825" y1="1440" x2="785" y2="1453.75"/><line x1="825" y1="1460" x2="770" y2="1467.5"/><line x1="775" y1="1477.5" x2="765" y2="1471.25"/><line x1="898.75" y1="1395" x2="805" y2="1442.5"/><line x1="898.75" y1="1416.25" x2="802.5" y2="1450"/></g></g>
<text x="903.26" y="1237.3" font-size="19" fill="#ff2a2a" textLength="123.11" lengthAdjust="spacingAndGlyphs">norpAK1086pr</text>
<text x="893.95" y="1272.8" font-size="19" fill="#ff2a2a" textLength="98.42" lengthAdjust="spacingAndGlyphs">mucK274pr</text>
<text x="814.73" y="1323.25" font-size="19" fill="#ff2a2a" textLength="87.63" lengthAdjust="spacingAndGlyphs">H2BK17pr</text>
<text x="755.30" y="1350" font-size="19" fill="#ff2a2a" textLength="132.07" lengthAdjust="spacingAndGlyphs">CG7275K405pr</text>
<text x="735.40" y="1379.25" font-size="19" fill="#ff2a2a" textLength="107.41" lengthAdjust="spacingAndGlyphs">OpbpK437pr</text>
<text x="651.05" y="1400.5" font-size="19" fill="#ff2a2a" textLength="141.26" lengthAdjust="spacingAndGlyphs">CG11391K525pr</text>
<text x="639.70" y="1426.25" font-size="19" fill="#ff2a2a" textLength="141.91" lengthAdjust="spacingAndGlyphs">MtpalphaK362pr</text>
<text x="909.06" y="1399.9" font-size="19" fill="#ff2a2a" textLength="118.01" lengthAdjust="spacingAndGlyphs">MME1K249pr</text>
<text x="909.82" y="1421.4" font-size="19" fill="#ff2a2a" textLength="92.99" lengthAdjust="spacingAndGlyphs">coltK251pr</text>
<text x="837.95" y="1447.1" font-size="19" fill="#ff2a2a" textLength="143.05" lengthAdjust="spacingAndGlyphs">CG16935K134pr</text>
<text x="837.38" y="1466.2" font-size="19" fill="#ff2a2a" textLength="100.32" lengthAdjust="spacingAndGlyphs">Prx5K126pr</text>
<text x="786.23" y="1483.6" font-size="19" fill="#ff2a2a" textLength="90.36" lengthAdjust="spacingAndGlyphs">sbbK611pr</text>
<text x="718.81" y="1484.9" font-size="28.5" fill="#000" font-weight="bold" textLength="16.51" lengthAdjust="spacingAndGlyphs">0</text>
<text x="658.67" y="1370.6" font-size="28.5" fill="#000" font-weight="bold" textLength="76.55" lengthAdjust="spacingAndGlyphs">50000</text>
<text x="642.84" y="1256.3" font-size="28.5" fill="#000" font-weight="bold" textLength="92.43" lengthAdjust="spacingAndGlyphs">100000</text>
<text x="642.84" y="1142.0" font-size="28.5" fill="#000" font-weight="bold" textLength="92.43" lengthAdjust="spacingAndGlyphs">150000</text>
<g clip-path="url(#eclip)">
<text x="754.94" y="1520" font-size="27" fill="#000" font-weight="bold" textLength="16.16" lengthAdjust="spacingAndGlyphs">0</text>
<text x="825.23" y="1520" font-size="27" fill="#000" font-weight="bold" textLength="76.90" lengthAdjust="spacingAndGlyphs">25000</text>
<text x="927.77" y="1520" font-size="27" fill="#000" font-weight="bold" textLength="77.06" lengthAdjust="spacingAndGlyphs">50000</text>
<text x="1029.40" y="1520" font-size="27" fill="#000" font-weight="bold" textLength="76.63" lengthAdjust="spacingAndGlyphs">75000</text>
<text x="1124.94" y="1520" font-size="27" fill="#000" font-weight="bold" textLength="92.43" lengthAdjust="spacingAndGlyphs">100000</text>
</g>
<text transform="translate(619,1371.5) rotate(-90)" x="-2.61" y="0" font-size="32" fill="#2e8b57" textLength="150.35" lengthAdjust="spacingAndGlyphs">Peak level</text>
<text x="862.75" y="1564.7" font-size="32" fill="#2e8b57" textLength="177.59" lengthAdjust="spacingAndGlyphs">Trough level</text>
<text x="989.77" y="1186.7" font-size="25.5" fill="#2e8b57" textLength="117.68" lengthAdjust="spacingAndGlyphs">y = 1.5 * x</text>
</svg>
</body></html>
